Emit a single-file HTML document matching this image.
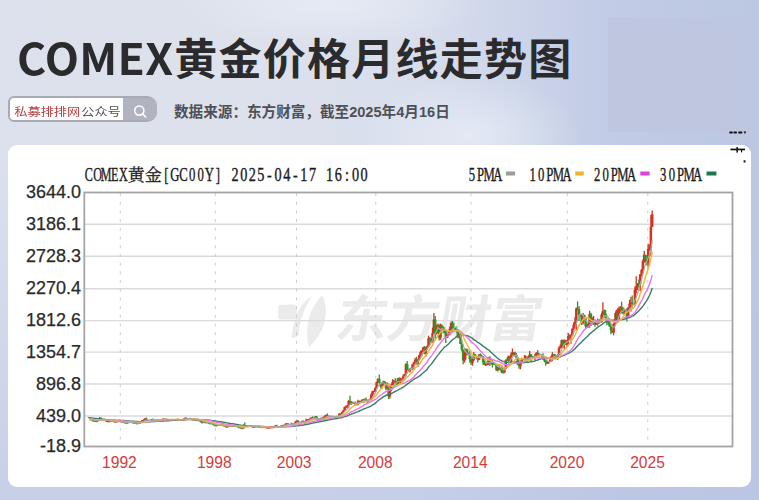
<!DOCTYPE html>
<html><head><meta charset="utf-8">
<style>
html,body{margin:0;padding:0;width:759px;height:500px;overflow:hidden}
body{position:relative;background:radial-gradient(ellipse 150px 40px at 330px 5px,rgba(234,239,247,.7),rgba(234,239,247,0)),radial-gradient(ellipse 110px 60px at 470px 135px,rgba(232,237,246,.8),rgba(232,237,246,0)),linear-gradient(180deg,rgba(190,200,230,0) 0%,rgba(190,200,230,0) 30%,rgba(186,197,229,.62) 100%),linear-gradient(90deg,#dde1ed 0%,#dde1ec 33%,#d8deec 55%,#ced6ea 66%,#c4cde6 78%,#c0cae4 85%,#bcc7e1 100%);font-family:"Liberation Sans","Noto Sans CJK SC",sans-serif}
.title{position:absolute;left:0;top:34.5px;width:600px;height:43px;font:700 43px/43px "Noto Sans CJK SC","Liberation Sans",sans-serif;color:#2b2b2d;white-space:nowrap}
.title span{position:absolute;top:0;transform-origin:0 0}
.search{position:absolute;left:7.5px;top:95.5px;width:145.5px;height:22px;border:2px solid #a8abb6;border-radius:6px 10px 10px 6px;background:#fff}
.search .txt{position:absolute;left:4.8px;top:4.7px;transform:scaleY(0.85);transform-origin:0 15.6px;font:400 13.2px/20px "Liberation Sans","Noto Sans CJK SC",sans-serif;white-space:nowrap;color:#555}
.search .txt b{font-weight:400;color:#b83e40}
.search .txt i{font-style:normal;margin-left:1px;color:#505050}
.search .btn{position:absolute;left:113.5px;top:0;width:34px;height:22px;background:#b1b4bf;border-radius:0 8px 8px 0}
.src{position:absolute;left:174px;top:103.3px;font:700 14.6px/18px "Liberation Sans","Noto Sans CJK SC",sans-serif;color:#4e5057;white-space:nowrap}
.rect{position:absolute;left:608px;top:17.5px;width:141px;height:114px;background:#bec6e0}
.card{position:absolute;left:8px;top:144.5px;width:742.5px;height:342px;background:#fff;border-radius:9px}
svg{position:absolute;left:0;top:0}
</style></head><body>
<div class="rect"></div>
<div class="title"><span style="left:17.4px;transform:scaleX(1.035);letter-spacing:0.3px">COMEX</span><span style="left:174.2px;letter-spacing:1.26px">黄金价格月线走势图</span></div>
<div class="search"><div class="txt"><b>私募排排网</b><i>公众号</i></div><div class="btn"><svg width="34" height="22" viewBox="0 0 34 22"><circle cx="16.3" cy="12.6" r="4.6" fill="none" stroke="#fff" stroke-width="1.6"/><line x1="19.6" y1="15.9" x2="22.7" y2="19" stroke="#fff" stroke-width="1.6" stroke-linecap="round"/></svg></div></div>
<div class="src">数据来源：东方财富，截至2025年4月16日</div>
<div class="card"></div>
<svg width="759" height="500" viewBox="0 0 759 500">
<g fill="#ebebeb" font-family="'Liberation Sans','Noto Sans CJK SC',sans-serif" font-weight="700">
<text x="333.5" y="337.5" font-size="50" textLength="206" lengthAdjust="spacingAndGlyphs" transform="translate(0,337.5) skewX(-10) translate(0,-337.5)">东方财富</text>
<path d="M278.5,305 L293,304.5 Q297,305 297,308 L297,319.5 L279.5,319.5 Q278,319 278,317 Z"/>
<path d="M312,296 C302,302 294,314 291.5,338 C294,338 297,337 299,335 C299,322 304,308 312,296 Z"/>
<path d="M322,295.5 C328,305 327,322 319,335 C316,340 312,344 309,347.5 C306,336 307,322 311,312 C314,305 318,299 322,295.5 Z"/>
</g>
<line x1="84.3" y1="416.0" x2="732.5" y2="416.0" stroke="#dadada" stroke-width="1.4"/>
<line x1="84.3" y1="384.0" x2="732.5" y2="384.0" stroke="#dadada" stroke-width="1.4"/>
<line x1="84.3" y1="352.1" x2="732.5" y2="352.1" stroke="#dadada" stroke-width="1.4"/>
<line x1="84.3" y1="320.6" x2="732.5" y2="320.6" stroke="#dadada" stroke-width="1.4"/>
<line x1="84.3" y1="288.8" x2="732.5" y2="288.8" stroke="#dadada" stroke-width="1.4"/>
<line x1="84.3" y1="256.3" x2="732.5" y2="256.3" stroke="#dadada" stroke-width="1.4"/>
<line x1="84.3" y1="224.3" x2="732.5" y2="224.3" stroke="#dadada" stroke-width="1.4"/>
<line x1="120.3" y1="193" x2="120.3" y2="446" stroke="#cdcdcd" stroke-width="1" stroke-dasharray="3,5.7"/>
<line x1="215.3" y1="193" x2="215.3" y2="446" stroke="#cdcdcd" stroke-width="1" stroke-dasharray="3,5.7"/>
<line x1="296.5" y1="193" x2="296.5" y2="446" stroke="#cdcdcd" stroke-width="1" stroke-dasharray="3,5.7"/>
<line x1="375.8" y1="193" x2="375.8" y2="446" stroke="#cdcdcd" stroke-width="1" stroke-dasharray="3,5.7"/>
<line x1="471.0" y1="193" x2="471.0" y2="446" stroke="#cdcdcd" stroke-width="1" stroke-dasharray="3,5.7"/>
<line x1="567.3" y1="193" x2="567.3" y2="446" stroke="#cdcdcd" stroke-width="1" stroke-dasharray="3,5.7"/>
<line x1="647.8" y1="193" x2="647.8" y2="446" stroke="#cdcdcd" stroke-width="1" stroke-dasharray="3,5.7"/>
<rect x="84.3" y="192.5" width="648.2" height="254" fill="none" stroke="#a4a4a4" stroke-width="1.8"/>
<defs><filter id="bl" x="-5%" y="-5%" width="110%" height="110%"><feGaussianBlur stdDeviation="0.75"/></filter></defs>
<g filter="url(#bl)">
<line x1="89.0" y1="417.1" x2="89.0" y2="417.9" stroke="#2f9428" stroke-width="1.3"/>
<rect x="87.80" y="417.3" width="2.5" height="0.8" fill="#2f9428"/>
<line x1="90.4" y1="417.5" x2="90.4" y2="418.3" stroke="#2f9428" stroke-width="1.3"/>
<rect x="89.13" y="417.6" width="2.5" height="0.8" fill="#2f9428"/>
<line x1="91.7" y1="417.6" x2="91.7" y2="420.8" stroke="#2f9428" stroke-width="1.3"/>
<rect x="90.46" y="418.1" width="2.5" height="2.6" fill="#2f9428"/>
<line x1="93.0" y1="420.1" x2="93.0" y2="421.0" stroke="#2f9428" stroke-width="1.3"/>
<rect x="91.79" y="420.7" width="2.5" height="0.8" fill="#2f9428"/>
<line x1="94.4" y1="420.2" x2="94.4" y2="421.2" stroke="#2f9428" stroke-width="1.3"/>
<rect x="93.12" y="420.8" width="2.5" height="0.8" fill="#2f9428"/>
<line x1="95.7" y1="420.9" x2="95.7" y2="421.9" stroke="#2f9428" stroke-width="1.3"/>
<rect x="94.45" y="421.1" width="2.5" height="0.8" fill="#2f9428"/>
<line x1="97.0" y1="419.6" x2="97.0" y2="422.2" stroke="#d8301f" stroke-width="1.3"/>
<rect x="95.79" y="420.5" width="2.5" height="1.3" fill="#d8301f"/>
<line x1="98.4" y1="419.2" x2="98.4" y2="420.7" stroke="#d8301f" stroke-width="1.3"/>
<rect x="97.12" y="419.5" width="2.5" height="1.0" fill="#d8301f"/>
<line x1="99.7" y1="417.1" x2="99.7" y2="420.5" stroke="#d8301f" stroke-width="1.3"/>
<rect x="98.45" y="418.1" width="2.5" height="1.4" fill="#d8301f"/>
<line x1="101.0" y1="417.5" x2="101.0" y2="420.2" stroke="#2f9428" stroke-width="1.3"/>
<rect x="99.78" y="418.1" width="2.5" height="1.9" fill="#2f9428"/>
<line x1="102.4" y1="419.5" x2="102.4" y2="420.0" stroke="#d8301f" stroke-width="1.3"/>
<rect x="101.11" y="419.7" width="2.5" height="0.8" fill="#d8301f"/>
<line x1="103.7" y1="418.8" x2="103.7" y2="420.0" stroke="#d8301f" stroke-width="1.3"/>
<rect x="102.44" y="419.1" width="2.5" height="0.8" fill="#d8301f"/>
<line x1="105.0" y1="418.9" x2="105.0" y2="421.0" stroke="#2f9428" stroke-width="1.3"/>
<rect x="103.77" y="419.1" width="2.5" height="1.7" fill="#2f9428"/>
<line x1="106.4" y1="420.4" x2="106.4" y2="422.0" stroke="#2f9428" stroke-width="1.3"/>
<rect x="105.11" y="420.8" width="2.5" height="0.8" fill="#2f9428"/>
<line x1="107.7" y1="420.8" x2="107.7" y2="422.2" stroke="#2f9428" stroke-width="1.3"/>
<rect x="106.44" y="421.1" width="2.5" height="0.8" fill="#2f9428"/>
<line x1="109.0" y1="421.1" x2="109.0" y2="422.0" stroke="#d8301f" stroke-width="1.3"/>
<rect x="107.77" y="421.5" width="2.5" height="0.8" fill="#d8301f"/>
<line x1="110.3" y1="421.0" x2="110.3" y2="421.5" stroke="#d8301f" stroke-width="1.3"/>
<rect x="109.10" y="421.2" width="2.5" height="0.8" fill="#d8301f"/>
<line x1="111.7" y1="420.5" x2="111.7" y2="421.3" stroke="#d8301f" stroke-width="1.3"/>
<rect x="110.43" y="420.8" width="2.5" height="0.8" fill="#d8301f"/>
<line x1="113.0" y1="420.6" x2="113.0" y2="421.6" stroke="#2f9428" stroke-width="1.3"/>
<rect x="111.76" y="420.8" width="2.5" height="0.8" fill="#2f9428"/>
<line x1="114.3" y1="420.8" x2="114.3" y2="422.7" stroke="#2f9428" stroke-width="1.3"/>
<rect x="113.09" y="421.1" width="2.5" height="1.0" fill="#2f9428"/>
<line x1="115.7" y1="421.2" x2="115.7" y2="422.2" stroke="#d8301f" stroke-width="1.3"/>
<rect x="114.42" y="421.6" width="2.5" height="0.8" fill="#d8301f"/>
<line x1="117.0" y1="421.2" x2="117.0" y2="422.4" stroke="#d8301f" stroke-width="1.3"/>
<rect x="115.76" y="421.4" width="2.5" height="0.8" fill="#d8301f"/>
<line x1="118.3" y1="420.8" x2="118.3" y2="422.1" stroke="#d8301f" stroke-width="1.3"/>
<rect x="117.09" y="420.9" width="2.5" height="0.8" fill="#d8301f"/>
<line x1="119.7" y1="419.8" x2="119.7" y2="421.9" stroke="#2f9428" stroke-width="1.3"/>
<rect x="118.42" y="420.9" width="2.5" height="0.9" fill="#2f9428"/>
<line x1="121.0" y1="421.5" x2="121.0" y2="422.1" stroke="#d8301f" stroke-width="1.3"/>
<rect x="119.75" y="421.6" width="2.5" height="0.8" fill="#d8301f"/>
<line x1="122.3" y1="421.3" x2="122.3" y2="421.8" stroke="#2f9428" stroke-width="1.3"/>
<rect x="121.08" y="421.6" width="2.5" height="0.8" fill="#2f9428"/>
<line x1="123.7" y1="421.0" x2="123.7" y2="422.9" stroke="#2f9428" stroke-width="1.3"/>
<rect x="122.41" y="421.7" width="2.5" height="0.8" fill="#2f9428"/>
<line x1="125.0" y1="422.2" x2="125.0" y2="423.3" stroke="#2f9428" stroke-width="1.3"/>
<rect x="123.74" y="422.5" width="2.5" height="0.8" fill="#2f9428"/>
<line x1="126.3" y1="422.1" x2="126.3" y2="423.0" stroke="#d8301f" stroke-width="1.3"/>
<rect x="125.08" y="422.8" width="2.5" height="0.8" fill="#d8301f"/>
<line x1="127.7" y1="422.3" x2="127.7" y2="423.4" stroke="#d8301f" stroke-width="1.3"/>
<rect x="126.41" y="422.4" width="2.5" height="0.8" fill="#d8301f"/>
<line x1="129.0" y1="421.1" x2="129.0" y2="422.7" stroke="#d8301f" stroke-width="1.3"/>
<rect x="127.74" y="421.5" width="2.5" height="0.9" fill="#d8301f"/>
<line x1="130.3" y1="421.2" x2="130.3" y2="423.2" stroke="#2f9428" stroke-width="1.3"/>
<rect x="129.07" y="421.5" width="2.5" height="1.1" fill="#2f9428"/>
<line x1="131.7" y1="421.5" x2="131.7" y2="422.8" stroke="#d8301f" stroke-width="1.3"/>
<rect x="130.40" y="422.0" width="2.5" height="0.8" fill="#d8301f"/>
<line x1="133.0" y1="421.3" x2="133.0" y2="423.7" stroke="#2f9428" stroke-width="1.3"/>
<rect x="131.73" y="422.0" width="2.5" height="0.8" fill="#2f9428"/>
<line x1="134.3" y1="421.9" x2="134.3" y2="423.1" stroke="#2f9428" stroke-width="1.3"/>
<rect x="133.06" y="422.7" width="2.5" height="0.8" fill="#2f9428"/>
<line x1="135.6" y1="422.3" x2="135.6" y2="423.3" stroke="#2f9428" stroke-width="1.3"/>
<rect x="134.39" y="423.0" width="2.5" height="0.8" fill="#2f9428"/>
<line x1="137.0" y1="422.1" x2="137.0" y2="424.5" stroke="#2f9428" stroke-width="1.3"/>
<rect x="135.73" y="423.1" width="2.5" height="0.8" fill="#2f9428"/>
<line x1="138.3" y1="423.1" x2="138.3" y2="423.7" stroke="#2f9428" stroke-width="1.3"/>
<rect x="137.06" y="423.3" width="2.5" height="0.8" fill="#2f9428"/>
<line x1="139.6" y1="422.2" x2="139.6" y2="423.8" stroke="#d8301f" stroke-width="1.3"/>
<rect x="138.39" y="422.8" width="2.5" height="0.8" fill="#d8301f"/>
<line x1="141.0" y1="421.0" x2="141.0" y2="422.9" stroke="#d8301f" stroke-width="1.3"/>
<rect x="139.72" y="421.6" width="2.5" height="1.2" fill="#d8301f"/>
<line x1="142.3" y1="419.9" x2="142.3" y2="421.8" stroke="#d8301f" stroke-width="1.3"/>
<rect x="141.05" y="420.1" width="2.5" height="1.5" fill="#d8301f"/>
<line x1="143.6" y1="419.2" x2="143.6" y2="420.4" stroke="#d8301f" stroke-width="1.3"/>
<rect x="142.38" y="420.1" width="2.5" height="0.8" fill="#d8301f"/>
<line x1="145.0" y1="418.2" x2="145.0" y2="420.4" stroke="#d8301f" stroke-width="1.3"/>
<rect x="143.71" y="418.5" width="2.5" height="1.5" fill="#d8301f"/>
<line x1="146.3" y1="417.6" x2="146.3" y2="421.2" stroke="#2f9428" stroke-width="1.3"/>
<rect x="145.05" y="418.5" width="2.5" height="1.9" fill="#2f9428"/>
<line x1="147.6" y1="419.9" x2="147.6" y2="421.9" stroke="#2f9428" stroke-width="1.3"/>
<rect x="146.38" y="420.5" width="2.5" height="1.1" fill="#2f9428"/>
<line x1="149.0" y1="419.6" x2="149.0" y2="421.9" stroke="#d8301f" stroke-width="1.3"/>
<rect x="147.71" y="420.7" width="2.5" height="0.9" fill="#d8301f"/>
<line x1="150.3" y1="420.1" x2="150.3" y2="421.6" stroke="#d8301f" stroke-width="1.3"/>
<rect x="149.04" y="420.6" width="2.5" height="0.8" fill="#d8301f"/>
<line x1="151.6" y1="419.1" x2="151.6" y2="421.1" stroke="#d8301f" stroke-width="1.3"/>
<rect x="150.37" y="419.2" width="2.5" height="1.4" fill="#d8301f"/>
<line x1="153.0" y1="418.4" x2="153.0" y2="421.0" stroke="#2f9428" stroke-width="1.3"/>
<rect x="151.70" y="419.2" width="2.5" height="0.9" fill="#2f9428"/>
<line x1="154.3" y1="419.6" x2="154.3" y2="420.1" stroke="#d8301f" stroke-width="1.3"/>
<rect x="153.03" y="419.9" width="2.5" height="0.8" fill="#d8301f"/>
<line x1="155.6" y1="419.0" x2="155.6" y2="420.2" stroke="#d8301f" stroke-width="1.3"/>
<rect x="154.36" y="419.2" width="2.5" height="0.8" fill="#d8301f"/>
<line x1="156.9" y1="419.1" x2="156.9" y2="420.8" stroke="#2f9428" stroke-width="1.3"/>
<rect x="155.70" y="419.2" width="2.5" height="1.0" fill="#2f9428"/>
<line x1="158.3" y1="419.1" x2="158.3" y2="420.4" stroke="#d8301f" stroke-width="1.3"/>
<rect x="157.03" y="419.5" width="2.5" height="0.8" fill="#d8301f"/>
<line x1="159.6" y1="418.9" x2="159.6" y2="419.5" stroke="#2f9428" stroke-width="1.3"/>
<rect x="158.36" y="419.5" width="2.5" height="0.8" fill="#2f9428"/>
<line x1="160.9" y1="419.0" x2="160.9" y2="420.2" stroke="#2f9428" stroke-width="1.3"/>
<rect x="159.69" y="419.5" width="2.5" height="0.8" fill="#2f9428"/>
<line x1="162.3" y1="418.7" x2="162.3" y2="419.9" stroke="#d8301f" stroke-width="1.3"/>
<rect x="161.02" y="419.5" width="2.5" height="0.8" fill="#d8301f"/>
<line x1="163.6" y1="418.1" x2="163.6" y2="419.6" stroke="#d8301f" stroke-width="1.3"/>
<rect x="162.35" y="418.9" width="2.5" height="0.8" fill="#d8301f"/>
<line x1="164.9" y1="418.8" x2="164.9" y2="419.5" stroke="#2f9428" stroke-width="1.3"/>
<rect x="163.68" y="418.9" width="2.5" height="0.8" fill="#2f9428"/>
<line x1="166.3" y1="418.5" x2="166.3" y2="420.3" stroke="#2f9428" stroke-width="1.3"/>
<rect x="165.02" y="419.3" width="2.5" height="0.8" fill="#2f9428"/>
<line x1="167.6" y1="419.0" x2="167.6" y2="420.4" stroke="#d8301f" stroke-width="1.3"/>
<rect x="166.35" y="419.7" width="2.5" height="0.8" fill="#d8301f"/>
<line x1="168.9" y1="419.3" x2="168.9" y2="420.6" stroke="#2f9428" stroke-width="1.3"/>
<rect x="167.68" y="419.7" width="2.5" height="0.8" fill="#2f9428"/>
<line x1="170.3" y1="419.6" x2="170.3" y2="420.7" stroke="#d8301f" stroke-width="1.3"/>
<rect x="169.01" y="420.2" width="2.5" height="0.8" fill="#d8301f"/>
<line x1="171.6" y1="418.9" x2="171.6" y2="420.3" stroke="#d8301f" stroke-width="1.3"/>
<rect x="170.34" y="419.1" width="2.5" height="1.1" fill="#d8301f"/>
<line x1="172.9" y1="419.0" x2="172.9" y2="419.7" stroke="#2f9428" stroke-width="1.3"/>
<rect x="171.67" y="419.1" width="2.5" height="0.8" fill="#2f9428"/>
<line x1="174.3" y1="419.2" x2="174.3" y2="419.8" stroke="#2f9428" stroke-width="1.3"/>
<rect x="173.00" y="419.3" width="2.5" height="0.8" fill="#2f9428"/>
<line x1="175.6" y1="419.1" x2="175.6" y2="419.6" stroke="#d8301f" stroke-width="1.3"/>
<rect x="174.33" y="419.5" width="2.5" height="0.8" fill="#d8301f"/>
<line x1="176.9" y1="419.0" x2="176.9" y2="420.0" stroke="#2f9428" stroke-width="1.3"/>
<rect x="175.67" y="419.5" width="2.5" height="0.8" fill="#2f9428"/>
<line x1="178.2" y1="418.6" x2="178.2" y2="419.9" stroke="#d8301f" stroke-width="1.3"/>
<rect x="177.00" y="419.7" width="2.5" height="0.8" fill="#d8301f"/>
<line x1="179.6" y1="419.4" x2="179.6" y2="419.9" stroke="#d8301f" stroke-width="1.3"/>
<rect x="178.33" y="419.7" width="2.5" height="0.8" fill="#d8301f"/>
<line x1="180.9" y1="419.7" x2="180.9" y2="420.2" stroke="#2f9428" stroke-width="1.3"/>
<rect x="179.66" y="419.7" width="2.5" height="0.8" fill="#2f9428"/>
<line x1="182.2" y1="419.3" x2="182.2" y2="419.9" stroke="#d8301f" stroke-width="1.3"/>
<rect x="180.99" y="419.5" width="2.5" height="0.8" fill="#d8301f"/>
<line x1="183.6" y1="418.4" x2="183.6" y2="420.9" stroke="#d8301f" stroke-width="1.3"/>
<rect x="182.32" y="419.5" width="2.5" height="0.8" fill="#d8301f"/>
<line x1="184.9" y1="417.6" x2="184.9" y2="419.6" stroke="#d8301f" stroke-width="1.3"/>
<rect x="183.65" y="418.3" width="2.5" height="1.2" fill="#d8301f"/>
<line x1="186.2" y1="417.3" x2="186.2" y2="418.7" stroke="#2f9428" stroke-width="1.3"/>
<rect x="184.99" y="418.3" width="2.5" height="0.8" fill="#2f9428"/>
<line x1="187.6" y1="418.3" x2="187.6" y2="419.2" stroke="#2f9428" stroke-width="1.3"/>
<rect x="186.32" y="418.6" width="2.5" height="0.8" fill="#2f9428"/>
<line x1="188.9" y1="418.7" x2="188.9" y2="419.4" stroke="#2f9428" stroke-width="1.3"/>
<rect x="187.65" y="418.9" width="2.5" height="0.8" fill="#2f9428"/>
<line x1="190.2" y1="417.7" x2="190.2" y2="419.4" stroke="#2f9428" stroke-width="1.3"/>
<rect x="188.98" y="419.1" width="2.5" height="0.8" fill="#2f9428"/>
<line x1="191.6" y1="418.9" x2="191.6" y2="419.9" stroke="#2f9428" stroke-width="1.3"/>
<rect x="190.31" y="419.2" width="2.5" height="0.8" fill="#2f9428"/>
<line x1="192.9" y1="419.5" x2="192.9" y2="419.8" stroke="#d8301f" stroke-width="1.3"/>
<rect x="191.64" y="419.6" width="2.5" height="0.8" fill="#d8301f"/>
<line x1="194.2" y1="417.9" x2="194.2" y2="419.9" stroke="#d8301f" stroke-width="1.3"/>
<rect x="192.97" y="419.5" width="2.5" height="0.8" fill="#d8301f"/>
<line x1="195.6" y1="418.9" x2="195.6" y2="420.6" stroke="#2f9428" stroke-width="1.3"/>
<rect x="194.30" y="419.5" width="2.5" height="0.8" fill="#2f9428"/>
<line x1="196.9" y1="420.0" x2="196.9" y2="420.5" stroke="#d8301f" stroke-width="1.3"/>
<rect x="195.64" y="420.0" width="2.5" height="0.8" fill="#d8301f"/>
<line x1="198.2" y1="419.5" x2="198.2" y2="421.3" stroke="#2f9428" stroke-width="1.3"/>
<rect x="196.97" y="420.0" width="2.5" height="0.8" fill="#2f9428"/>
<line x1="199.5" y1="419.6" x2="199.5" y2="420.9" stroke="#2f9428" stroke-width="1.3"/>
<rect x="198.30" y="420.5" width="2.5" height="0.8" fill="#2f9428"/>
<line x1="200.9" y1="420.5" x2="200.9" y2="422.6" stroke="#2f9428" stroke-width="1.3"/>
<rect x="199.63" y="420.7" width="2.5" height="1.6" fill="#2f9428"/>
<line x1="202.2" y1="420.8" x2="202.2" y2="423.6" stroke="#d8301f" stroke-width="1.3"/>
<rect x="200.96" y="421.4" width="2.5" height="0.9" fill="#d8301f"/>
<line x1="203.5" y1="420.8" x2="203.5" y2="422.8" stroke="#2f9428" stroke-width="1.3"/>
<rect x="202.29" y="421.4" width="2.5" height="0.8" fill="#2f9428"/>
<line x1="204.9" y1="421.7" x2="204.9" y2="423.3" stroke="#2f9428" stroke-width="1.3"/>
<rect x="203.62" y="422.1" width="2.5" height="0.8" fill="#2f9428"/>
<line x1="206.2" y1="422.2" x2="206.2" y2="423.2" stroke="#d8301f" stroke-width="1.3"/>
<rect x="204.96" y="422.3" width="2.5" height="0.8" fill="#d8301f"/>
<line x1="207.5" y1="422.3" x2="207.5" y2="423.1" stroke="#2f9428" stroke-width="1.3"/>
<rect x="206.29" y="422.3" width="2.5" height="0.8" fill="#2f9428"/>
<line x1="208.9" y1="422.6" x2="208.9" y2="423.6" stroke="#2f9428" stroke-width="1.3"/>
<rect x="207.62" y="423.0" width="2.5" height="0.8" fill="#2f9428"/>
<line x1="210.2" y1="423.5" x2="210.2" y2="424.3" stroke="#2f9428" stroke-width="1.3"/>
<rect x="208.95" y="423.5" width="2.5" height="0.8" fill="#2f9428"/>
<line x1="211.5" y1="422.6" x2="211.5" y2="423.7" stroke="#d8301f" stroke-width="1.3"/>
<rect x="210.28" y="423.1" width="2.5" height="0.8" fill="#d8301f"/>
<line x1="212.9" y1="421.8" x2="212.9" y2="425.0" stroke="#2f9428" stroke-width="1.3"/>
<rect x="211.61" y="423.1" width="2.5" height="1.4" fill="#2f9428"/>
<line x1="214.2" y1="424.1" x2="214.2" y2="425.6" stroke="#2f9428" stroke-width="1.3"/>
<rect x="212.94" y="424.5" width="2.5" height="1.0" fill="#2f9428"/>
<line x1="215.5" y1="425.5" x2="215.5" y2="426.2" stroke="#2f9428" stroke-width="1.3"/>
<rect x="214.27" y="425.5" width="2.5" height="0.8" fill="#2f9428"/>
<line x1="216.9" y1="424.9" x2="216.9" y2="426.2" stroke="#d8301f" stroke-width="1.3"/>
<rect x="215.61" y="425.0" width="2.5" height="0.9" fill="#d8301f"/>
<line x1="218.2" y1="424.3" x2="218.2" y2="426.1" stroke="#2f9428" stroke-width="1.3"/>
<rect x="216.94" y="425.0" width="2.5" height="0.8" fill="#2f9428"/>
<line x1="219.5" y1="424.9" x2="219.5" y2="425.9" stroke="#d8301f" stroke-width="1.3"/>
<rect x="218.27" y="425.2" width="2.5" height="0.8" fill="#d8301f"/>
<line x1="220.8" y1="424.1" x2="220.8" y2="425.8" stroke="#d8301f" stroke-width="1.3"/>
<rect x="219.60" y="424.6" width="2.5" height="0.8" fill="#d8301f"/>
<line x1="222.2" y1="424.0" x2="222.2" y2="426.0" stroke="#2f9428" stroke-width="1.3"/>
<rect x="220.93" y="424.6" width="2.5" height="1.1" fill="#2f9428"/>
<line x1="223.5" y1="424.9" x2="223.5" y2="426.1" stroke="#d8301f" stroke-width="1.3"/>
<rect x="222.26" y="425.5" width="2.5" height="0.8" fill="#d8301f"/>
<line x1="224.8" y1="425.5" x2="224.8" y2="426.5" stroke="#2f9428" stroke-width="1.3"/>
<rect x="223.59" y="425.5" width="2.5" height="0.8" fill="#2f9428"/>
<line x1="226.2" y1="425.7" x2="226.2" y2="427.7" stroke="#2f9428" stroke-width="1.3"/>
<rect x="224.93" y="426.1" width="2.5" height="1.0" fill="#2f9428"/>
<line x1="227.5" y1="425.3" x2="227.5" y2="427.7" stroke="#d8301f" stroke-width="1.3"/>
<rect x="226.26" y="425.7" width="2.5" height="1.4" fill="#d8301f"/>
<line x1="228.8" y1="425.2" x2="228.8" y2="425.9" stroke="#2f9428" stroke-width="1.3"/>
<rect x="227.59" y="425.7" width="2.5" height="0.8" fill="#2f9428"/>
<line x1="230.2" y1="424.8" x2="230.2" y2="426.4" stroke="#d8301f" stroke-width="1.3"/>
<rect x="228.92" y="425.7" width="2.5" height="0.8" fill="#d8301f"/>
<line x1="231.5" y1="425.6" x2="231.5" y2="426.3" stroke="#2f9428" stroke-width="1.3"/>
<rect x="230.25" y="425.7" width="2.5" height="0.8" fill="#2f9428"/>
<line x1="232.8" y1="425.9" x2="232.8" y2="426.2" stroke="#d8301f" stroke-width="1.3"/>
<rect x="231.58" y="426.1" width="2.5" height="0.8" fill="#d8301f"/>
<line x1="234.2" y1="425.4" x2="234.2" y2="426.6" stroke="#2f9428" stroke-width="1.3"/>
<rect x="232.91" y="426.1" width="2.5" height="0.8" fill="#2f9428"/>
<line x1="235.5" y1="425.6" x2="235.5" y2="427.2" stroke="#2f9428" stroke-width="1.3"/>
<rect x="234.24" y="426.1" width="2.5" height="0.8" fill="#2f9428"/>
<line x1="236.8" y1="425.6" x2="236.8" y2="426.7" stroke="#d8301f" stroke-width="1.3"/>
<rect x="235.58" y="426.2" width="2.5" height="0.8" fill="#d8301f"/>
<line x1="238.2" y1="425.9" x2="238.2" y2="427.8" stroke="#2f9428" stroke-width="1.3"/>
<rect x="236.91" y="426.2" width="2.5" height="1.2" fill="#2f9428"/>
<line x1="239.5" y1="427.3" x2="239.5" y2="427.8" stroke="#2f9428" stroke-width="1.3"/>
<rect x="238.24" y="427.4" width="2.5" height="0.8" fill="#2f9428"/>
<line x1="240.8" y1="427.2" x2="240.8" y2="428.4" stroke="#2f9428" stroke-width="1.3"/>
<rect x="239.57" y="427.8" width="2.5" height="0.8" fill="#2f9428"/>
<line x1="242.2" y1="427.4" x2="242.2" y2="428.4" stroke="#d8301f" stroke-width="1.3"/>
<rect x="240.90" y="428.3" width="2.5" height="0.8" fill="#d8301f"/>
<line x1="243.5" y1="424.4" x2="243.5" y2="428.6" stroke="#d8301f" stroke-width="1.3"/>
<rect x="242.23" y="425.3" width="2.5" height="3.0" fill="#d8301f"/>
<line x1="244.8" y1="422.6" x2="244.8" y2="425.6" stroke="#2f9428" stroke-width="1.3"/>
<rect x="243.56" y="425.3" width="2.5" height="0.8" fill="#2f9428"/>
<line x1="246.1" y1="425.3" x2="246.1" y2="426.1" stroke="#2f9428" stroke-width="1.3"/>
<rect x="244.90" y="425.3" width="2.5" height="0.8" fill="#2f9428"/>
<line x1="247.5" y1="425.8" x2="247.5" y2="426.5" stroke="#2f9428" stroke-width="1.3"/>
<rect x="246.23" y="425.8" width="2.5" height="0.8" fill="#2f9428"/>
<line x1="248.8" y1="425.9" x2="248.8" y2="426.8" stroke="#2f9428" stroke-width="1.3"/>
<rect x="247.56" y="425.9" width="2.5" height="0.8" fill="#2f9428"/>
<line x1="250.1" y1="425.1" x2="250.1" y2="427.1" stroke="#d8301f" stroke-width="1.3"/>
<rect x="248.89" y="425.7" width="2.5" height="0.8" fill="#d8301f"/>
<line x1="251.5" y1="425.4" x2="251.5" y2="427.0" stroke="#2f9428" stroke-width="1.3"/>
<rect x="250.22" y="425.7" width="2.5" height="0.9" fill="#2f9428"/>
<line x1="252.8" y1="425.9" x2="252.8" y2="427.3" stroke="#2f9428" stroke-width="1.3"/>
<rect x="251.55" y="426.7" width="2.5" height="0.8" fill="#2f9428"/>
<line x1="254.1" y1="426.1" x2="254.1" y2="427.5" stroke="#2f9428" stroke-width="1.3"/>
<rect x="252.88" y="426.9" width="2.5" height="0.8" fill="#2f9428"/>
<line x1="255.5" y1="425.5" x2="255.5" y2="427.1" stroke="#d8301f" stroke-width="1.3"/>
<rect x="254.21" y="426.0" width="2.5" height="1.1" fill="#d8301f"/>
<line x1="256.8" y1="425.9" x2="256.8" y2="426.7" stroke="#2f9428" stroke-width="1.3"/>
<rect x="255.55" y="426.0" width="2.5" height="0.8" fill="#2f9428"/>
<line x1="258.1" y1="426.5" x2="258.1" y2="426.8" stroke="#d8301f" stroke-width="1.3"/>
<rect x="256.88" y="426.7" width="2.5" height="0.8" fill="#d8301f"/>
<line x1="259.5" y1="426.0" x2="259.5" y2="427.0" stroke="#2f9428" stroke-width="1.3"/>
<rect x="258.21" y="426.7" width="2.5" height="0.8" fill="#2f9428"/>
<line x1="260.8" y1="426.8" x2="260.8" y2="428.0" stroke="#2f9428" stroke-width="1.3"/>
<rect x="259.54" y="427.0" width="2.5" height="0.8" fill="#2f9428"/>
<line x1="262.1" y1="427.2" x2="262.1" y2="428.1" stroke="#d8301f" stroke-width="1.3"/>
<rect x="260.87" y="427.3" width="2.5" height="0.8" fill="#d8301f"/>
<line x1="263.5" y1="426.8" x2="263.5" y2="427.7" stroke="#d8301f" stroke-width="1.3"/>
<rect x="262.20" y="427.1" width="2.5" height="0.8" fill="#d8301f"/>
<line x1="264.8" y1="426.4" x2="264.8" y2="427.8" stroke="#2f9428" stroke-width="1.3"/>
<rect x="263.53" y="427.1" width="2.5" height="0.8" fill="#2f9428"/>
<line x1="266.1" y1="427.1" x2="266.1" y2="427.8" stroke="#d8301f" stroke-width="1.3"/>
<rect x="264.87" y="427.5" width="2.5" height="0.8" fill="#d8301f"/>
<line x1="267.4" y1="427.5" x2="267.4" y2="428.4" stroke="#2f9428" stroke-width="1.3"/>
<rect x="266.20" y="427.5" width="2.5" height="0.8" fill="#2f9428"/>
<line x1="268.8" y1="427.6" x2="268.8" y2="428.5" stroke="#d8301f" stroke-width="1.3"/>
<rect x="267.53" y="427.7" width="2.5" height="0.8" fill="#d8301f"/>
<line x1="270.1" y1="426.8" x2="270.1" y2="427.9" stroke="#d8301f" stroke-width="1.3"/>
<rect x="268.86" y="427.5" width="2.5" height="0.8" fill="#d8301f"/>
<line x1="271.4" y1="426.9" x2="271.4" y2="427.7" stroke="#d8301f" stroke-width="1.3"/>
<rect x="270.19" y="427.3" width="2.5" height="0.8" fill="#d8301f"/>
<line x1="272.8" y1="426.9" x2="272.8" y2="427.8" stroke="#2f9428" stroke-width="1.3"/>
<rect x="271.52" y="427.3" width="2.5" height="0.8" fill="#2f9428"/>
<line x1="274.1" y1="426.4" x2="274.1" y2="427.6" stroke="#d8301f" stroke-width="1.3"/>
<rect x="272.85" y="427.1" width="2.5" height="0.8" fill="#d8301f"/>
<line x1="275.4" y1="425.2" x2="275.4" y2="427.2" stroke="#d8301f" stroke-width="1.3"/>
<rect x="274.18" y="425.7" width="2.5" height="1.3" fill="#d8301f"/>
<line x1="276.8" y1="424.7" x2="276.8" y2="426.8" stroke="#2f9428" stroke-width="1.3"/>
<rect x="275.52" y="425.7" width="2.5" height="0.9" fill="#2f9428"/>
<line x1="278.1" y1="426.4" x2="278.1" y2="427.7" stroke="#2f9428" stroke-width="1.3"/>
<rect x="276.85" y="426.7" width="2.5" height="0.8" fill="#2f9428"/>
<line x1="279.4" y1="426.4" x2="279.4" y2="427.0" stroke="#d8301f" stroke-width="1.3"/>
<rect x="278.18" y="426.7" width="2.5" height="0.8" fill="#d8301f"/>
<line x1="280.8" y1="425.5" x2="280.8" y2="427.0" stroke="#d8301f" stroke-width="1.3"/>
<rect x="279.51" y="426.5" width="2.5" height="0.8" fill="#d8301f"/>
<line x1="282.1" y1="425.3" x2="282.1" y2="426.6" stroke="#d8301f" stroke-width="1.3"/>
<rect x="280.84" y="425.5" width="2.5" height="1.0" fill="#d8301f"/>
<line x1="283.4" y1="424.8" x2="283.4" y2="425.8" stroke="#d8301f" stroke-width="1.3"/>
<rect x="282.17" y="425.1" width="2.5" height="0.8" fill="#d8301f"/>
<line x1="284.8" y1="424.4" x2="284.8" y2="425.3" stroke="#d8301f" stroke-width="1.3"/>
<rect x="283.50" y="424.7" width="2.5" height="0.8" fill="#d8301f"/>
<line x1="286.1" y1="422.9" x2="286.1" y2="425.0" stroke="#d8301f" stroke-width="1.3"/>
<rect x="284.84" y="423.5" width="2.5" height="1.1" fill="#d8301f"/>
<line x1="287.4" y1="423.3" x2="287.4" y2="425.0" stroke="#2f9428" stroke-width="1.3"/>
<rect x="286.17" y="423.5" width="2.5" height="0.8" fill="#2f9428"/>
<line x1="288.7" y1="423.6" x2="288.7" y2="425.6" stroke="#2f9428" stroke-width="1.3"/>
<rect x="287.50" y="424.1" width="2.5" height="0.9" fill="#2f9428"/>
<line x1="290.1" y1="424.3" x2="290.1" y2="425.2" stroke="#d8301f" stroke-width="1.3"/>
<rect x="288.83" y="424.5" width="2.5" height="0.8" fill="#d8301f"/>
<line x1="291.4" y1="422.7" x2="291.4" y2="425.3" stroke="#d8301f" stroke-width="1.3"/>
<rect x="290.16" y="423.7" width="2.5" height="0.8" fill="#d8301f"/>
<line x1="292.7" y1="423.4" x2="292.7" y2="425.3" stroke="#2f9428" stroke-width="1.3"/>
<rect x="291.49" y="423.7" width="2.5" height="0.8" fill="#2f9428"/>
<line x1="294.1" y1="423.6" x2="294.1" y2="424.4" stroke="#d8301f" stroke-width="1.3"/>
<rect x="292.82" y="424.1" width="2.5" height="0.8" fill="#d8301f"/>
<line x1="295.4" y1="421.1" x2="295.4" y2="424.1" stroke="#d8301f" stroke-width="1.3"/>
<rect x="294.15" y="422.1" width="2.5" height="2.0" fill="#d8301f"/>
<line x1="296.7" y1="420.4" x2="296.7" y2="422.5" stroke="#d8301f" stroke-width="1.3"/>
<rect x="295.49" y="420.7" width="2.5" height="1.3" fill="#d8301f"/>
<line x1="298.1" y1="420.2" x2="298.1" y2="422.1" stroke="#2f9428" stroke-width="1.3"/>
<rect x="296.82" y="420.7" width="2.5" height="1.3" fill="#2f9428"/>
<line x1="299.4" y1="421.9" x2="299.4" y2="423.3" stroke="#2f9428" stroke-width="1.3"/>
<rect x="298.15" y="422.1" width="2.5" height="0.9" fill="#2f9428"/>
<line x1="300.7" y1="422.6" x2="300.7" y2="423.0" stroke="#d8301f" stroke-width="1.3"/>
<rect x="299.48" y="422.7" width="2.5" height="0.8" fill="#d8301f"/>
<line x1="302.1" y1="420.5" x2="302.1" y2="422.8" stroke="#d8301f" stroke-width="1.3"/>
<rect x="300.81" y="421.0" width="2.5" height="1.7" fill="#d8301f"/>
<line x1="303.4" y1="420.5" x2="303.4" y2="422.2" stroke="#2f9428" stroke-width="1.3"/>
<rect x="302.14" y="421.0" width="2.5" height="1.2" fill="#2f9428"/>
<line x1="304.7" y1="421.2" x2="304.7" y2="422.6" stroke="#d8301f" stroke-width="1.3"/>
<rect x="303.47" y="421.7" width="2.5" height="0.8" fill="#d8301f"/>
<line x1="306.1" y1="418.8" x2="306.1" y2="422.3" stroke="#d8301f" stroke-width="1.3"/>
<rect x="304.81" y="420.3" width="2.5" height="1.4" fill="#d8301f"/>
<line x1="307.4" y1="419.0" x2="307.4" y2="421.7" stroke="#d8301f" stroke-width="1.3"/>
<rect x="306.14" y="419.4" width="2.5" height="0.9" fill="#d8301f"/>
<line x1="308.7" y1="419.0" x2="308.7" y2="419.9" stroke="#2f9428" stroke-width="1.3"/>
<rect x="307.47" y="419.4" width="2.5" height="0.8" fill="#2f9428"/>
<line x1="310.0" y1="417.7" x2="310.0" y2="419.9" stroke="#d8301f" stroke-width="1.3"/>
<rect x="308.80" y="418.7" width="2.5" height="0.9" fill="#d8301f"/>
<line x1="311.4" y1="417.5" x2="311.4" y2="419.0" stroke="#d8301f" stroke-width="1.3"/>
<rect x="310.13" y="417.5" width="2.5" height="1.2" fill="#d8301f"/>
<line x1="312.7" y1="416.3" x2="312.7" y2="419.0" stroke="#2f9428" stroke-width="1.3"/>
<rect x="311.46" y="417.5" width="2.5" height="0.9" fill="#2f9428"/>
<line x1="314.0" y1="418.2" x2="314.0" y2="419.2" stroke="#2f9428" stroke-width="1.3"/>
<rect x="312.79" y="418.4" width="2.5" height="0.8" fill="#2f9428"/>
<line x1="315.4" y1="416.0" x2="315.4" y2="419.8" stroke="#d8301f" stroke-width="1.3"/>
<rect x="314.12" y="416.8" width="2.5" height="2.0" fill="#d8301f"/>
<line x1="316.7" y1="415.9" x2="316.7" y2="419.8" stroke="#2f9428" stroke-width="1.3"/>
<rect x="315.46" y="416.8" width="2.5" height="2.6" fill="#2f9428"/>
<line x1="318.0" y1="418.9" x2="318.0" y2="419.5" stroke="#d8301f" stroke-width="1.3"/>
<rect x="316.79" y="419.1" width="2.5" height="0.8" fill="#d8301f"/>
<line x1="319.4" y1="418.7" x2="319.4" y2="419.6" stroke="#d8301f" stroke-width="1.3"/>
<rect x="318.12" y="418.9" width="2.5" height="0.8" fill="#d8301f"/>
<line x1="320.7" y1="417.7" x2="320.7" y2="419.8" stroke="#2f9428" stroke-width="1.3"/>
<rect x="319.45" y="418.9" width="2.5" height="0.8" fill="#2f9428"/>
<line x1="322.0" y1="417.2" x2="322.0" y2="420.0" stroke="#d8301f" stroke-width="1.3"/>
<rect x="320.78" y="417.9" width="2.5" height="1.3" fill="#d8301f"/>
<line x1="323.4" y1="416.5" x2="323.4" y2="418.5" stroke="#d8301f" stroke-width="1.3"/>
<rect x="322.11" y="417.5" width="2.5" height="0.8" fill="#d8301f"/>
<line x1="324.7" y1="415.5" x2="324.7" y2="418.0" stroke="#d8301f" stroke-width="1.3"/>
<rect x="323.44" y="416.7" width="2.5" height="0.9" fill="#d8301f"/>
<line x1="326.0" y1="414.4" x2="326.0" y2="416.8" stroke="#d8301f" stroke-width="1.3"/>
<rect x="324.78" y="415.0" width="2.5" height="1.6" fill="#d8301f"/>
<line x1="327.4" y1="413.5" x2="327.4" y2="416.5" stroke="#2f9428" stroke-width="1.3"/>
<rect x="326.11" y="415.0" width="2.5" height="1.0" fill="#2f9428"/>
<line x1="328.7" y1="416.0" x2="328.7" y2="417.4" stroke="#2f9428" stroke-width="1.3"/>
<rect x="327.44" y="416.1" width="2.5" height="1.0" fill="#2f9428"/>
<line x1="330.0" y1="415.8" x2="330.0" y2="417.1" stroke="#d8301f" stroke-width="1.3"/>
<rect x="328.77" y="416.3" width="2.5" height="0.8" fill="#d8301f"/>
<line x1="331.4" y1="416.0" x2="331.4" y2="416.9" stroke="#2f9428" stroke-width="1.3"/>
<rect x="330.10" y="416.3" width="2.5" height="0.8" fill="#2f9428"/>
<line x1="332.7" y1="415.8" x2="332.7" y2="416.8" stroke="#d8301f" stroke-width="1.3"/>
<rect x="331.43" y="416.2" width="2.5" height="0.8" fill="#d8301f"/>
<line x1="334.0" y1="416.0" x2="334.0" y2="417.9" stroke="#2f9428" stroke-width="1.3"/>
<rect x="332.76" y="416.2" width="2.5" height="1.3" fill="#2f9428"/>
<line x1="335.3" y1="416.1" x2="335.3" y2="418.0" stroke="#d8301f" stroke-width="1.3"/>
<rect x="334.09" y="416.1" width="2.5" height="1.3" fill="#d8301f"/>
<line x1="336.7" y1="415.7" x2="336.7" y2="416.6" stroke="#2f9428" stroke-width="1.3"/>
<rect x="335.43" y="416.1" width="2.5" height="0.8" fill="#2f9428"/>
<line x1="338.0" y1="416.1" x2="338.0" y2="416.7" stroke="#d8301f" stroke-width="1.3"/>
<rect x="336.76" y="416.1" width="2.5" height="0.8" fill="#d8301f"/>
<line x1="339.3" y1="413.6" x2="339.3" y2="416.2" stroke="#d8301f" stroke-width="1.3"/>
<rect x="338.09" y="413.6" width="2.5" height="2.5" fill="#d8301f"/>
<line x1="340.7" y1="413.5" x2="340.7" y2="414.7" stroke="#2f9428" stroke-width="1.3"/>
<rect x="339.42" y="413.6" width="2.5" height="0.8" fill="#2f9428"/>
<line x1="342.0" y1="411.7" x2="342.0" y2="414.5" stroke="#d8301f" stroke-width="1.3"/>
<rect x="340.75" y="412.0" width="2.5" height="1.7" fill="#d8301f"/>
<line x1="343.3" y1="410.1" x2="343.3" y2="412.2" stroke="#d8301f" stroke-width="1.3"/>
<rect x="342.08" y="410.5" width="2.5" height="1.5" fill="#d8301f"/>
<line x1="344.7" y1="406.5" x2="344.7" y2="411.2" stroke="#d8301f" stroke-width="1.3"/>
<rect x="343.41" y="406.9" width="2.5" height="3.6" fill="#d8301f"/>
<line x1="346.0" y1="405.3" x2="346.0" y2="407.8" stroke="#2f9428" stroke-width="1.3"/>
<rect x="344.75" y="406.9" width="2.5" height="0.8" fill="#2f9428"/>
<line x1="347.3" y1="405.0" x2="347.3" y2="408.4" stroke="#d8301f" stroke-width="1.3"/>
<rect x="346.08" y="405.9" width="2.5" height="1.9" fill="#d8301f"/>
<line x1="348.7" y1="399.9" x2="348.7" y2="408.2" stroke="#d8301f" stroke-width="1.3"/>
<rect x="347.41" y="401.0" width="2.5" height="4.9" fill="#d8301f"/>
<line x1="350.0" y1="395.7" x2="350.0" y2="403.1" stroke="#2f9428" stroke-width="1.3"/>
<rect x="348.74" y="401.0" width="2.5" height="0.8" fill="#2f9428"/>
<line x1="351.3" y1="401.2" x2="351.3" y2="404.9" stroke="#2f9428" stroke-width="1.3"/>
<rect x="350.07" y="401.5" width="2.5" height="2.1" fill="#2f9428"/>
<line x1="352.7" y1="401.7" x2="352.7" y2="404.1" stroke="#d8301f" stroke-width="1.3"/>
<rect x="351.40" y="402.4" width="2.5" height="1.2" fill="#d8301f"/>
<line x1="354.0" y1="402.0" x2="354.0" y2="403.1" stroke="#2f9428" stroke-width="1.3"/>
<rect x="352.73" y="402.4" width="2.5" height="0.8" fill="#2f9428"/>
<line x1="355.3" y1="401.5" x2="355.3" y2="405.4" stroke="#2f9428" stroke-width="1.3"/>
<rect x="354.06" y="402.9" width="2.5" height="1.8" fill="#2f9428"/>
<line x1="356.6" y1="404.3" x2="356.6" y2="405.3" stroke="#d8301f" stroke-width="1.3"/>
<rect x="355.40" y="404.3" width="2.5" height="0.8" fill="#d8301f"/>
<line x1="358.0" y1="399.7" x2="358.0" y2="405.2" stroke="#d8301f" stroke-width="1.3"/>
<rect x="356.73" y="401.4" width="2.5" height="2.9" fill="#d8301f"/>
<line x1="359.3" y1="400.4" x2="359.3" y2="403.4" stroke="#2f9428" stroke-width="1.3"/>
<rect x="358.06" y="401.4" width="2.5" height="0.9" fill="#2f9428"/>
<line x1="360.6" y1="400.9" x2="360.6" y2="403.0" stroke="#d8301f" stroke-width="1.3"/>
<rect x="359.39" y="401.0" width="2.5" height="1.3" fill="#d8301f"/>
<line x1="362.0" y1="399.4" x2="362.0" y2="402.1" stroke="#d8301f" stroke-width="1.3"/>
<rect x="360.72" y="399.7" width="2.5" height="1.3" fill="#d8301f"/>
<line x1="363.3" y1="399.1" x2="363.3" y2="400.9" stroke="#2f9428" stroke-width="1.3"/>
<rect x="362.05" y="399.7" width="2.5" height="0.8" fill="#2f9428"/>
<line x1="364.6" y1="398.7" x2="364.6" y2="402.5" stroke="#d8301f" stroke-width="1.3"/>
<rect x="363.38" y="398.9" width="2.5" height="1.0" fill="#d8301f"/>
<line x1="366.0" y1="397.6" x2="366.0" y2="400.8" stroke="#2f9428" stroke-width="1.3"/>
<rect x="364.72" y="398.9" width="2.5" height="1.7" fill="#2f9428"/>
<line x1="367.3" y1="400.5" x2="367.3" y2="403.8" stroke="#2f9428" stroke-width="1.3"/>
<rect x="366.05" y="400.6" width="2.5" height="0.8" fill="#2f9428"/>
<line x1="368.6" y1="399.6" x2="368.6" y2="402.1" stroke="#d8301f" stroke-width="1.3"/>
<rect x="367.38" y="400.0" width="2.5" height="1.2" fill="#d8301f"/>
<line x1="370.0" y1="398.6" x2="370.0" y2="400.0" stroke="#d8301f" stroke-width="1.3"/>
<rect x="368.71" y="399.6" width="2.5" height="0.8" fill="#d8301f"/>
<line x1="371.3" y1="393.3" x2="371.3" y2="399.8" stroke="#d8301f" stroke-width="1.3"/>
<rect x="370.04" y="394.6" width="2.5" height="5.0" fill="#d8301f"/>
<line x1="372.6" y1="390.7" x2="372.6" y2="395.9" stroke="#d8301f" stroke-width="1.3"/>
<rect x="371.37" y="391.1" width="2.5" height="3.5" fill="#d8301f"/>
<line x1="374.0" y1="390.2" x2="374.0" y2="392.0" stroke="#2f9428" stroke-width="1.3"/>
<rect x="372.70" y="391.1" width="2.5" height="0.8" fill="#2f9428"/>
<line x1="375.3" y1="387.0" x2="375.3" y2="392.6" stroke="#d8301f" stroke-width="1.3"/>
<rect x="374.03" y="388.1" width="2.5" height="3.8" fill="#d8301f"/>
<line x1="376.6" y1="381.7" x2="376.6" y2="388.2" stroke="#d8301f" stroke-width="1.3"/>
<rect x="375.37" y="382.0" width="2.5" height="6.1" fill="#d8301f"/>
<line x1="377.9" y1="378.4" x2="377.9" y2="382.9" stroke="#d8301f" stroke-width="1.3"/>
<rect x="376.70" y="378.8" width="2.5" height="3.2" fill="#d8301f"/>
<line x1="379.3" y1="374.5" x2="379.3" y2="383.5" stroke="#2f9428" stroke-width="1.3"/>
<rect x="378.03" y="378.8" width="2.5" height="3.9" fill="#2f9428"/>
<line x1="380.6" y1="382.7" x2="380.6" y2="388.2" stroke="#2f9428" stroke-width="1.3"/>
<rect x="379.36" y="382.7" width="2.5" height="3.6" fill="#2f9428"/>
<line x1="381.9" y1="384.2" x2="381.9" y2="388.9" stroke="#d8301f" stroke-width="1.3"/>
<rect x="380.69" y="384.8" width="2.5" height="1.5" fill="#d8301f"/>
<line x1="383.3" y1="380.7" x2="383.3" y2="385.5" stroke="#d8301f" stroke-width="1.3"/>
<rect x="382.02" y="381.7" width="2.5" height="3.1" fill="#d8301f"/>
<line x1="384.6" y1="380.9" x2="384.6" y2="382.9" stroke="#2f9428" stroke-width="1.3"/>
<rect x="383.35" y="381.7" width="2.5" height="1.2" fill="#2f9428"/>
<line x1="385.9" y1="382.5" x2="385.9" y2="390.3" stroke="#2f9428" stroke-width="1.3"/>
<rect x="384.69" y="382.9" width="2.5" height="5.6" fill="#2f9428"/>
<line x1="387.3" y1="382.4" x2="387.3" y2="389.1" stroke="#d8301f" stroke-width="1.3"/>
<rect x="386.02" y="384.9" width="2.5" height="3.6" fill="#d8301f"/>
<line x1="388.6" y1="383.4" x2="388.6" y2="399.1" stroke="#2f9428" stroke-width="1.3"/>
<rect x="387.35" y="384.9" width="2.5" height="11.6" fill="#2f9428"/>
<line x1="389.9" y1="389.4" x2="389.9" y2="398.5" stroke="#d8301f" stroke-width="1.3"/>
<rect x="388.68" y="389.6" width="2.5" height="6.8" fill="#d8301f"/>
<line x1="391.3" y1="383.8" x2="391.3" y2="390.8" stroke="#d8301f" stroke-width="1.3"/>
<rect x="390.01" y="384.9" width="2.5" height="4.8" fill="#d8301f"/>
<line x1="392.6" y1="379.1" x2="392.6" y2="385.0" stroke="#d8301f" stroke-width="1.3"/>
<rect x="391.34" y="381.8" width="2.5" height="3.1" fill="#d8301f"/>
<line x1="393.9" y1="379.9" x2="393.9" y2="384.3" stroke="#d8301f" stroke-width="1.3"/>
<rect x="392.67" y="380.9" width="2.5" height="1.0" fill="#d8301f"/>
<line x1="395.3" y1="378.2" x2="395.3" y2="383.6" stroke="#2f9428" stroke-width="1.3"/>
<rect x="394.00" y="380.9" width="2.5" height="1.3" fill="#2f9428"/>
<line x1="396.6" y1="381.2" x2="396.6" y2="386.3" stroke="#2f9428" stroke-width="1.3"/>
<rect x="395.34" y="382.1" width="2.5" height="2.3" fill="#2f9428"/>
<line x1="397.9" y1="378.2" x2="397.9" y2="384.7" stroke="#d8301f" stroke-width="1.3"/>
<rect x="396.67" y="378.2" width="2.5" height="6.2" fill="#d8301f"/>
<line x1="399.2" y1="377.3" x2="399.2" y2="382.9" stroke="#2f9428" stroke-width="1.3"/>
<rect x="398.00" y="378.2" width="2.5" height="3.7" fill="#2f9428"/>
<line x1="400.6" y1="377.7" x2="400.6" y2="383.6" stroke="#d8301f" stroke-width="1.3"/>
<rect x="399.33" y="379.9" width="2.5" height="2.0" fill="#d8301f"/>
<line x1="401.9" y1="378.0" x2="401.9" y2="380.7" stroke="#d8301f" stroke-width="1.3"/>
<rect x="400.66" y="379.9" width="2.5" height="0.8" fill="#d8301f"/>
<line x1="403.2" y1="374.6" x2="403.2" y2="381.5" stroke="#d8301f" stroke-width="1.3"/>
<rect x="401.99" y="376.3" width="2.5" height="3.7" fill="#d8301f"/>
<line x1="404.6" y1="373.9" x2="404.6" y2="376.3" stroke="#d8301f" stroke-width="1.3"/>
<rect x="403.32" y="374.0" width="2.5" height="2.2" fill="#d8301f"/>
<line x1="405.9" y1="363.2" x2="405.9" y2="376.6" stroke="#d8301f" stroke-width="1.3"/>
<rect x="404.66" y="364.1" width="2.5" height="9.9" fill="#d8301f"/>
<line x1="407.2" y1="361.0" x2="407.2" y2="370.1" stroke="#2f9428" stroke-width="1.3"/>
<rect x="405.99" y="364.1" width="2.5" height="5.9" fill="#2f9428"/>
<line x1="408.6" y1="369.7" x2="408.6" y2="371.7" stroke="#2f9428" stroke-width="1.3"/>
<rect x="407.32" y="370.1" width="2.5" height="1.1" fill="#2f9428"/>
<line x1="409.9" y1="368.5" x2="409.9" y2="372.4" stroke="#d8301f" stroke-width="1.3"/>
<rect x="408.65" y="368.6" width="2.5" height="2.6" fill="#d8301f"/>
<line x1="411.2" y1="367.4" x2="411.2" y2="369.4" stroke="#2f9428" stroke-width="1.3"/>
<rect x="409.98" y="368.6" width="2.5" height="0.8" fill="#2f9428"/>
<line x1="412.6" y1="364.1" x2="412.6" y2="369.9" stroke="#d8301f" stroke-width="1.3"/>
<rect x="411.31" y="364.3" width="2.5" height="4.5" fill="#d8301f"/>
<line x1="413.9" y1="361.7" x2="413.9" y2="369.2" stroke="#d8301f" stroke-width="1.3"/>
<rect x="412.64" y="362.0" width="2.5" height="2.2" fill="#d8301f"/>
<line x1="415.2" y1="357.8" x2="415.2" y2="362.1" stroke="#d8301f" stroke-width="1.3"/>
<rect x="413.97" y="359.7" width="2.5" height="2.4" fill="#d8301f"/>
<line x1="416.6" y1="356.8" x2="416.6" y2="364.6" stroke="#2f9428" stroke-width="1.3"/>
<rect x="415.31" y="359.7" width="2.5" height="4.5" fill="#2f9428"/>
<line x1="417.9" y1="359.3" x2="417.9" y2="366.7" stroke="#d8301f" stroke-width="1.3"/>
<rect x="416.64" y="359.5" width="2.5" height="4.7" fill="#d8301f"/>
<line x1="419.2" y1="354.8" x2="419.2" y2="360.1" stroke="#d8301f" stroke-width="1.3"/>
<rect x="417.97" y="355.3" width="2.5" height="4.2" fill="#d8301f"/>
<line x1="420.6" y1="351.0" x2="420.6" y2="356.5" stroke="#d8301f" stroke-width="1.3"/>
<rect x="419.30" y="351.9" width="2.5" height="3.3" fill="#d8301f"/>
<line x1="421.9" y1="349.9" x2="421.9" y2="353.7" stroke="#d8301f" stroke-width="1.3"/>
<rect x="420.63" y="349.9" width="2.5" height="2.0" fill="#d8301f"/>
<line x1="423.2" y1="346.8" x2="423.2" y2="350.1" stroke="#d8301f" stroke-width="1.3"/>
<rect x="421.96" y="347.5" width="2.5" height="2.4" fill="#d8301f"/>
<line x1="424.5" y1="346.0" x2="424.5" y2="354.2" stroke="#2f9428" stroke-width="1.3"/>
<rect x="423.29" y="347.5" width="2.5" height="6.1" fill="#2f9428"/>
<line x1="425.9" y1="346.7" x2="425.9" y2="356.4" stroke="#d8301f" stroke-width="1.3"/>
<rect x="424.63" y="348.2" width="2.5" height="5.4" fill="#d8301f"/>
<line x1="427.2" y1="345.5" x2="427.2" y2="349.8" stroke="#d8301f" stroke-width="1.3"/>
<rect x="425.96" y="346.3" width="2.5" height="1.9" fill="#d8301f"/>
<line x1="428.5" y1="335.6" x2="428.5" y2="346.6" stroke="#d8301f" stroke-width="1.3"/>
<rect x="427.29" y="338.3" width="2.5" height="8.0" fill="#d8301f"/>
<line x1="429.9" y1="337.1" x2="429.9" y2="339.9" stroke="#2f9428" stroke-width="1.3"/>
<rect x="428.62" y="338.3" width="2.5" height="1.4" fill="#2f9428"/>
<line x1="431.2" y1="338.4" x2="431.2" y2="343.0" stroke="#2f9428" stroke-width="1.3"/>
<rect x="429.95" y="339.6" width="2.5" height="2.5" fill="#2f9428"/>
<line x1="432.5" y1="327.6" x2="432.5" y2="342.8" stroke="#d8301f" stroke-width="1.3"/>
<rect x="431.28" y="333.3" width="2.5" height="8.8" fill="#d8301f"/>
<line x1="433.9" y1="313.1" x2="433.9" y2="333.6" stroke="#d8301f" stroke-width="1.3"/>
<rect x="432.61" y="319.5" width="2.5" height="13.8" fill="#d8301f"/>
<line x1="435.2" y1="315.9" x2="435.2" y2="339.7" stroke="#2f9428" stroke-width="1.3"/>
<rect x="433.94" y="319.5" width="2.5" height="14.4" fill="#2f9428"/>
<line x1="436.5" y1="324.7" x2="436.5" y2="334.5" stroke="#d8301f" stroke-width="1.3"/>
<rect x="435.28" y="326.6" width="2.5" height="7.2" fill="#d8301f"/>
<line x1="437.9" y1="323.6" x2="437.9" y2="332.7" stroke="#d8301f" stroke-width="1.3"/>
<rect x="436.61" y="325.2" width="2.5" height="1.4" fill="#d8301f"/>
<line x1="439.2" y1="324.3" x2="439.2" y2="340.6" stroke="#2f9428" stroke-width="1.3"/>
<rect x="437.94" y="325.2" width="2.5" height="12.4" fill="#2f9428"/>
<line x1="440.5" y1="323.6" x2="440.5" y2="339.8" stroke="#d8301f" stroke-width="1.3"/>
<rect x="439.27" y="325.6" width="2.5" height="12.0" fill="#d8301f"/>
<line x1="441.9" y1="324.2" x2="441.9" y2="328.0" stroke="#2f9428" stroke-width="1.3"/>
<rect x="440.60" y="325.6" width="2.5" height="2.0" fill="#2f9428"/>
<line x1="443.2" y1="326.3" x2="443.2" y2="333.2" stroke="#2f9428" stroke-width="1.3"/>
<rect x="441.93" y="327.6" width="2.5" height="2.9" fill="#2f9428"/>
<line x1="444.5" y1="327.5" x2="444.5" y2="333.4" stroke="#2f9428" stroke-width="1.3"/>
<rect x="443.26" y="330.5" width="2.5" height="0.8" fill="#2f9428"/>
<line x1="445.8" y1="330.2" x2="445.8" y2="342.9" stroke="#2f9428" stroke-width="1.3"/>
<rect x="444.60" y="330.8" width="2.5" height="7.1" fill="#2f9428"/>
<line x1="447.2" y1="334.4" x2="447.2" y2="338.0" stroke="#d8301f" stroke-width="1.3"/>
<rect x="445.93" y="334.9" width="2.5" height="3.0" fill="#d8301f"/>
<line x1="448.5" y1="331.7" x2="448.5" y2="335.0" stroke="#d8301f" stroke-width="1.3"/>
<rect x="447.26" y="334.5" width="2.5" height="0.8" fill="#d8301f"/>
<line x1="449.8" y1="326.8" x2="449.8" y2="335.2" stroke="#d8301f" stroke-width="1.3"/>
<rect x="448.59" y="328.9" width="2.5" height="5.6" fill="#d8301f"/>
<line x1="451.2" y1="321.5" x2="451.2" y2="330.7" stroke="#d8301f" stroke-width="1.3"/>
<rect x="449.92" y="323.1" width="2.5" height="5.8" fill="#d8301f"/>
<line x1="452.5" y1="321.0" x2="452.5" y2="331.6" stroke="#2f9428" stroke-width="1.3"/>
<rect x="451.25" y="323.1" width="2.5" height="3.9" fill="#2f9428"/>
<line x1="453.8" y1="322.7" x2="453.8" y2="327.6" stroke="#2f9428" stroke-width="1.3"/>
<rect x="452.58" y="327.0" width="2.5" height="0.8" fill="#2f9428"/>
<line x1="455.2" y1="326.8" x2="455.2" y2="331.1" stroke="#2f9428" stroke-width="1.3"/>
<rect x="453.91" y="327.5" width="2.5" height="2.5" fill="#2f9428"/>
<line x1="456.5" y1="326.4" x2="456.5" y2="332.6" stroke="#2f9428" stroke-width="1.3"/>
<rect x="455.25" y="330.0" width="2.5" height="0.8" fill="#2f9428"/>
<line x1="457.8" y1="329.1" x2="457.8" y2="337.9" stroke="#2f9428" stroke-width="1.3"/>
<rect x="456.58" y="330.8" width="2.5" height="5.9" fill="#2f9428"/>
<line x1="459.2" y1="333.8" x2="459.2" y2="338.5" stroke="#d8301f" stroke-width="1.3"/>
<rect x="457.91" y="335.5" width="2.5" height="1.2" fill="#d8301f"/>
<line x1="460.5" y1="332.3" x2="460.5" y2="344.1" stroke="#2f9428" stroke-width="1.3"/>
<rect x="459.24" y="335.5" width="2.5" height="8.5" fill="#2f9428"/>
<line x1="461.8" y1="342.5" x2="461.8" y2="351.2" stroke="#2f9428" stroke-width="1.3"/>
<rect x="460.57" y="344.0" width="2.5" height="5.5" fill="#2f9428"/>
<line x1="463.2" y1="349.4" x2="463.2" y2="364.3" stroke="#2f9428" stroke-width="1.3"/>
<rect x="461.90" y="349.5" width="2.5" height="11.0" fill="#2f9428"/>
<line x1="464.5" y1="351.9" x2="464.5" y2="362.6" stroke="#d8301f" stroke-width="1.3"/>
<rect x="463.23" y="355.0" width="2.5" height="5.5" fill="#d8301f"/>
<line x1="465.8" y1="348.2" x2="465.8" y2="359.6" stroke="#d8301f" stroke-width="1.3"/>
<rect x="464.57" y="349.3" width="2.5" height="5.7" fill="#d8301f"/>
<line x1="467.1" y1="349.3" x2="467.1" y2="355.6" stroke="#2f9428" stroke-width="1.3"/>
<rect x="465.90" y="349.3" width="2.5" height="4.8" fill="#2f9428"/>
<line x1="468.5" y1="352.7" x2="468.5" y2="354.4" stroke="#2f9428" stroke-width="1.3"/>
<rect x="467.23" y="354.0" width="2.5" height="0.8" fill="#2f9428"/>
<line x1="469.8" y1="350.8" x2="469.8" y2="362.6" stroke="#2f9428" stroke-width="1.3"/>
<rect x="468.56" y="354.3" width="2.5" height="4.9" fill="#2f9428"/>
<line x1="471.1" y1="356.6" x2="471.1" y2="365.0" stroke="#2f9428" stroke-width="1.3"/>
<rect x="469.89" y="359.2" width="2.5" height="3.6" fill="#2f9428"/>
<line x1="472.5" y1="357.2" x2="472.5" y2="365.7" stroke="#d8301f" stroke-width="1.3"/>
<rect x="471.22" y="360.1" width="2.5" height="2.6" fill="#d8301f"/>
<line x1="473.8" y1="352.0" x2="473.8" y2="361.0" stroke="#d8301f" stroke-width="1.3"/>
<rect x="472.55" y="354.4" width="2.5" height="5.7" fill="#d8301f"/>
<line x1="475.1" y1="354.3" x2="475.1" y2="357.6" stroke="#2f9428" stroke-width="1.3"/>
<rect x="473.88" y="354.4" width="2.5" height="2.6" fill="#2f9428"/>
<line x1="476.5" y1="355.9" x2="476.5" y2="359.2" stroke="#d8301f" stroke-width="1.3"/>
<rect x="475.22" y="356.2" width="2.5" height="0.8" fill="#d8301f"/>
<line x1="477.8" y1="356.1" x2="477.8" y2="362.4" stroke="#2f9428" stroke-width="1.3"/>
<rect x="476.55" y="356.2" width="2.5" height="3.5" fill="#2f9428"/>
<line x1="479.1" y1="354.2" x2="479.1" y2="360.3" stroke="#d8301f" stroke-width="1.3"/>
<rect x="477.88" y="354.4" width="2.5" height="5.3" fill="#d8301f"/>
<line x1="480.5" y1="353.4" x2="480.5" y2="357.6" stroke="#2f9428" stroke-width="1.3"/>
<rect x="479.21" y="354.4" width="2.5" height="2.8" fill="#2f9428"/>
<line x1="481.8" y1="355.0" x2="481.8" y2="357.5" stroke="#d8301f" stroke-width="1.3"/>
<rect x="480.54" y="356.8" width="2.5" height="0.8" fill="#d8301f"/>
<line x1="483.1" y1="355.9" x2="483.1" y2="365.1" stroke="#2f9428" stroke-width="1.3"/>
<rect x="481.87" y="356.8" width="2.5" height="5.4" fill="#2f9428"/>
<line x1="484.5" y1="360.8" x2="484.5" y2="365.0" stroke="#2f9428" stroke-width="1.3"/>
<rect x="483.20" y="362.2" width="2.5" height="2.6" fill="#2f9428"/>
<line x1="485.8" y1="363.8" x2="485.8" y2="366.1" stroke="#d8301f" stroke-width="1.3"/>
<rect x="484.54" y="364.6" width="2.5" height="0.8" fill="#d8301f"/>
<line x1="487.1" y1="362.3" x2="487.1" y2="365.3" stroke="#d8301f" stroke-width="1.3"/>
<rect x="485.87" y="364.0" width="2.5" height="0.8" fill="#d8301f"/>
<line x1="488.4" y1="356.9" x2="488.4" y2="364.9" stroke="#d8301f" stroke-width="1.3"/>
<rect x="487.20" y="357.4" width="2.5" height="6.5" fill="#d8301f"/>
<line x1="489.8" y1="356.3" x2="489.8" y2="365.9" stroke="#2f9428" stroke-width="1.3"/>
<rect x="488.53" y="357.4" width="2.5" height="4.5" fill="#2f9428"/>
<line x1="491.1" y1="360.7" x2="491.1" y2="364.1" stroke="#2f9428" stroke-width="1.3"/>
<rect x="489.86" y="362.0" width="2.5" height="2.1" fill="#2f9428"/>
<line x1="492.4" y1="359.0" x2="492.4" y2="367.5" stroke="#2f9428" stroke-width="1.3"/>
<rect x="491.19" y="364.1" width="2.5" height="0.8" fill="#2f9428"/>
<line x1="493.8" y1="362.6" x2="493.8" y2="364.4" stroke="#d8301f" stroke-width="1.3"/>
<rect x="492.52" y="363.6" width="2.5" height="0.8" fill="#d8301f"/>
<line x1="495.1" y1="363.3" x2="495.1" y2="365.6" stroke="#2f9428" stroke-width="1.3"/>
<rect x="493.85" y="363.6" width="2.5" height="1.3" fill="#2f9428"/>
<line x1="496.4" y1="364.4" x2="496.4" y2="370.8" stroke="#2f9428" stroke-width="1.3"/>
<rect x="495.19" y="364.8" width="2.5" height="5.4" fill="#2f9428"/>
<line x1="497.8" y1="367.3" x2="497.8" y2="371.5" stroke="#d8301f" stroke-width="1.3"/>
<rect x="496.52" y="367.4" width="2.5" height="2.8" fill="#d8301f"/>
<line x1="499.1" y1="364.1" x2="499.1" y2="370.3" stroke="#2f9428" stroke-width="1.3"/>
<rect x="497.85" y="367.4" width="2.5" height="1.4" fill="#2f9428"/>
<line x1="500.4" y1="366.9" x2="500.4" y2="370.6" stroke="#d8301f" stroke-width="1.3"/>
<rect x="499.18" y="366.9" width="2.5" height="1.9" fill="#d8301f"/>
<line x1="501.8" y1="365.1" x2="501.8" y2="373.3" stroke="#2f9428" stroke-width="1.3"/>
<rect x="500.51" y="366.9" width="2.5" height="5.4" fill="#2f9428"/>
<line x1="503.1" y1="371.2" x2="503.1" y2="373.6" stroke="#2f9428" stroke-width="1.3"/>
<rect x="501.84" y="372.3" width="2.5" height="0.8" fill="#2f9428"/>
<line x1="504.4" y1="367.3" x2="504.4" y2="373.1" stroke="#d8301f" stroke-width="1.3"/>
<rect x="503.17" y="368.6" width="2.5" height="4.0" fill="#d8301f"/>
<line x1="505.8" y1="359.3" x2="505.8" y2="368.8" stroke="#d8301f" stroke-width="1.3"/>
<rect x="504.51" y="360.2" width="2.5" height="8.4" fill="#d8301f"/>
<line x1="507.1" y1="357.6" x2="507.1" y2="360.6" stroke="#2f9428" stroke-width="1.3"/>
<rect x="505.84" y="360.2" width="2.5" height="0.8" fill="#2f9428"/>
<line x1="508.4" y1="355.6" x2="508.4" y2="361.6" stroke="#d8301f" stroke-width="1.3"/>
<rect x="507.17" y="356.5" width="2.5" height="4.0" fill="#d8301f"/>
<line x1="509.7" y1="356.3" x2="509.7" y2="363.2" stroke="#2f9428" stroke-width="1.3"/>
<rect x="508.50" y="356.5" width="2.5" height="5.3" fill="#2f9428"/>
<line x1="511.1" y1="352.6" x2="511.1" y2="363.0" stroke="#d8301f" stroke-width="1.3"/>
<rect x="509.83" y="354.4" width="2.5" height="7.5" fill="#d8301f"/>
<line x1="512.4" y1="348.5" x2="512.4" y2="355.5" stroke="#d8301f" stroke-width="1.3"/>
<rect x="511.16" y="352.4" width="2.5" height="2.0" fill="#d8301f"/>
<line x1="513.7" y1="352.1" x2="513.7" y2="355.6" stroke="#2f9428" stroke-width="1.3"/>
<rect x="512.49" y="352.4" width="2.5" height="2.9" fill="#2f9428"/>
<line x1="515.1" y1="351.7" x2="515.1" y2="355.9" stroke="#d8301f" stroke-width="1.3"/>
<rect x="513.82" y="354.8" width="2.5" height="0.8" fill="#d8301f"/>
<line x1="516.4" y1="353.0" x2="516.4" y2="359.1" stroke="#2f9428" stroke-width="1.3"/>
<rect x="515.16" y="354.8" width="2.5" height="3.0" fill="#2f9428"/>
<line x1="517.7" y1="357.8" x2="517.7" y2="364.7" stroke="#2f9428" stroke-width="1.3"/>
<rect x="516.49" y="357.8" width="2.5" height="6.9" fill="#2f9428"/>
<line x1="519.1" y1="361.5" x2="519.1" y2="368.8" stroke="#2f9428" stroke-width="1.3"/>
<rect x="517.82" y="364.7" width="2.5" height="1.5" fill="#2f9428"/>
<line x1="520.4" y1="360.4" x2="520.4" y2="369.3" stroke="#d8301f" stroke-width="1.3"/>
<rect x="519.15" y="362.0" width="2.5" height="4.2" fill="#d8301f"/>
<line x1="521.7" y1="357.8" x2="521.7" y2="362.3" stroke="#d8301f" stroke-width="1.3"/>
<rect x="520.48" y="359.3" width="2.5" height="2.8" fill="#d8301f"/>
<line x1="523.1" y1="358.4" x2="523.1" y2="360.2" stroke="#2f9428" stroke-width="1.3"/>
<rect x="521.81" y="359.3" width="2.5" height="0.8" fill="#2f9428"/>
<line x1="524.4" y1="355.2" x2="524.4" y2="359.9" stroke="#d8301f" stroke-width="1.3"/>
<rect x="523.14" y="358.1" width="2.5" height="1.3" fill="#d8301f"/>
<line x1="525.7" y1="355.2" x2="525.7" y2="359.3" stroke="#d8301f" stroke-width="1.3"/>
<rect x="524.48" y="358.1" width="2.5" height="0.8" fill="#d8301f"/>
<line x1="527.1" y1="356.2" x2="527.1" y2="362.5" stroke="#2f9428" stroke-width="1.3"/>
<rect x="525.81" y="358.1" width="2.5" height="1.8" fill="#2f9428"/>
<line x1="528.4" y1="355.7" x2="528.4" y2="360.6" stroke="#d8301f" stroke-width="1.3"/>
<rect x="527.14" y="358.1" width="2.5" height="1.9" fill="#d8301f"/>
<line x1="529.7" y1="351.0" x2="529.7" y2="358.9" stroke="#d8301f" stroke-width="1.3"/>
<rect x="528.47" y="354.4" width="2.5" height="3.6" fill="#d8301f"/>
<line x1="531.1" y1="353.9" x2="531.1" y2="361.4" stroke="#2f9428" stroke-width="1.3"/>
<rect x="529.80" y="354.4" width="2.5" height="2.6" fill="#2f9428"/>
<line x1="532.4" y1="356.0" x2="532.4" y2="359.2" stroke="#2f9428" stroke-width="1.3"/>
<rect x="531.13" y="357.0" width="2.5" height="0.9" fill="#2f9428"/>
<line x1="533.7" y1="356.6" x2="533.7" y2="359.0" stroke="#d8301f" stroke-width="1.3"/>
<rect x="532.46" y="357.7" width="2.5" height="0.8" fill="#d8301f"/>
<line x1="535.0" y1="353.7" x2="535.0" y2="359.9" stroke="#d8301f" stroke-width="1.3"/>
<rect x="533.79" y="355.7" width="2.5" height="2.0" fill="#d8301f"/>
<line x1="536.4" y1="352.2" x2="536.4" y2="356.2" stroke="#d8301f" stroke-width="1.3"/>
<rect x="535.13" y="352.8" width="2.5" height="2.9" fill="#d8301f"/>
<line x1="537.7" y1="350.1" x2="537.7" y2="355.1" stroke="#2f9428" stroke-width="1.3"/>
<rect x="536.46" y="352.8" width="2.5" height="1.9" fill="#2f9428"/>
<line x1="539.0" y1="353.1" x2="539.0" y2="355.6" stroke="#d8301f" stroke-width="1.3"/>
<rect x="537.79" y="354.2" width="2.5" height="0.8" fill="#d8301f"/>
<line x1="540.4" y1="353.9" x2="540.4" y2="355.0" stroke="#2f9428" stroke-width="1.3"/>
<rect x="539.12" y="354.2" width="2.5" height="0.8" fill="#2f9428"/>
<line x1="541.7" y1="354.2" x2="541.7" y2="358.1" stroke="#2f9428" stroke-width="1.3"/>
<rect x="540.45" y="354.9" width="2.5" height="1.2" fill="#2f9428"/>
<line x1="543.0" y1="353.3" x2="543.0" y2="359.9" stroke="#2f9428" stroke-width="1.3"/>
<rect x="541.78" y="356.0" width="2.5" height="3.1" fill="#2f9428"/>
<line x1="544.4" y1="357.6" x2="544.4" y2="362.0" stroke="#2f9428" stroke-width="1.3"/>
<rect x="543.11" y="359.2" width="2.5" height="1.4" fill="#2f9428"/>
<line x1="545.7" y1="360.4" x2="545.7" y2="365.7" stroke="#2f9428" stroke-width="1.3"/>
<rect x="544.45" y="360.6" width="2.5" height="1.9" fill="#2f9428"/>
<line x1="547.0" y1="359.7" x2="547.0" y2="364.1" stroke="#2f9428" stroke-width="1.3"/>
<rect x="545.78" y="362.5" width="2.5" height="1.0" fill="#2f9428"/>
<line x1="548.4" y1="361.7" x2="548.4" y2="363.8" stroke="#d8301f" stroke-width="1.3"/>
<rect x="547.11" y="361.8" width="2.5" height="1.6" fill="#d8301f"/>
<line x1="549.7" y1="358.5" x2="549.7" y2="361.9" stroke="#d8301f" stroke-width="1.3"/>
<rect x="548.44" y="361.3" width="2.5" height="0.8" fill="#d8301f"/>
<line x1="551.0" y1="355.9" x2="551.0" y2="362.0" stroke="#d8301f" stroke-width="1.3"/>
<rect x="549.77" y="357.2" width="2.5" height="4.1" fill="#d8301f"/>
<line x1="552.4" y1="352.2" x2="552.4" y2="361.1" stroke="#d8301f" stroke-width="1.3"/>
<rect x="551.10" y="354.4" width="2.5" height="2.8" fill="#d8301f"/>
<line x1="553.7" y1="354.4" x2="553.7" y2="355.3" stroke="#2f9428" stroke-width="1.3"/>
<rect x="552.43" y="354.4" width="2.5" height="0.8" fill="#2f9428"/>
<line x1="555.0" y1="353.7" x2="555.0" y2="357.8" stroke="#2f9428" stroke-width="1.3"/>
<rect x="553.76" y="354.8" width="2.5" height="1.3" fill="#2f9428"/>
<line x1="556.3" y1="355.5" x2="556.3" y2="358.1" stroke="#2f9428" stroke-width="1.3"/>
<rect x="555.10" y="356.0" width="2.5" height="0.9" fill="#2f9428"/>
<line x1="557.7" y1="354.2" x2="557.7" y2="360.0" stroke="#d8301f" stroke-width="1.3"/>
<rect x="556.43" y="355.1" width="2.5" height="1.8" fill="#d8301f"/>
<line x1="559.0" y1="346.6" x2="559.0" y2="355.2" stroke="#d8301f" stroke-width="1.3"/>
<rect x="557.76" y="348.1" width="2.5" height="7.1" fill="#d8301f"/>
<line x1="560.3" y1="344.6" x2="560.3" y2="348.4" stroke="#d8301f" stroke-width="1.3"/>
<rect x="559.09" y="346.4" width="2.5" height="1.7" fill="#d8301f"/>
<line x1="561.7" y1="339.4" x2="561.7" y2="347.9" stroke="#d8301f" stroke-width="1.3"/>
<rect x="560.42" y="340.1" width="2.5" height="6.3" fill="#d8301f"/>
<line x1="563.0" y1="339.4" x2="563.0" y2="347.7" stroke="#2f9428" stroke-width="1.3"/>
<rect x="561.75" y="340.1" width="2.5" height="3.9" fill="#2f9428"/>
<line x1="564.3" y1="339.6" x2="564.3" y2="349.3" stroke="#d8301f" stroke-width="1.3"/>
<rect x="563.08" y="341.2" width="2.5" height="2.8" fill="#d8301f"/>
<line x1="565.7" y1="339.7" x2="565.7" y2="344.6" stroke="#2f9428" stroke-width="1.3"/>
<rect x="564.42" y="341.2" width="2.5" height="3.4" fill="#2f9428"/>
<line x1="567.0" y1="340.1" x2="567.0" y2="346.8" stroke="#d8301f" stroke-width="1.3"/>
<rect x="565.75" y="340.5" width="2.5" height="4.1" fill="#d8301f"/>
<line x1="568.3" y1="333.0" x2="568.3" y2="345.4" stroke="#d8301f" stroke-width="1.3"/>
<rect x="567.08" y="336.0" width="2.5" height="4.5" fill="#d8301f"/>
<line x1="569.7" y1="334.5" x2="569.7" y2="339.4" stroke="#2f9428" stroke-width="1.3"/>
<rect x="568.41" y="336.0" width="2.5" height="1.6" fill="#2f9428"/>
<line x1="571.0" y1="333.9" x2="571.0" y2="343.8" stroke="#d8301f" stroke-width="1.3"/>
<rect x="569.74" y="335.4" width="2.5" height="2.1" fill="#d8301f"/>
<line x1="572.3" y1="328.2" x2="572.3" y2="336.0" stroke="#d8301f" stroke-width="1.3"/>
<rect x="571.07" y="328.8" width="2.5" height="6.7" fill="#d8301f"/>
<line x1="573.7" y1="322.4" x2="573.7" y2="329.7" stroke="#d8301f" stroke-width="1.3"/>
<rect x="572.40" y="324.8" width="2.5" height="3.9" fill="#d8301f"/>
<line x1="575.0" y1="316.9" x2="575.0" y2="328.1" stroke="#d8301f" stroke-width="1.3"/>
<rect x="573.73" y="321.5" width="2.5" height="3.4" fill="#d8301f"/>
<line x1="576.3" y1="307.4" x2="576.3" y2="330.8" stroke="#d8301f" stroke-width="1.3"/>
<rect x="575.07" y="308.6" width="2.5" height="12.9" fill="#d8301f"/>
<line x1="577.6" y1="301.4" x2="577.6" y2="310.2" stroke="#2f9428" stroke-width="1.3"/>
<rect x="576.40" y="308.6" width="2.5" height="0.8" fill="#2f9428"/>
<line x1="579.0" y1="306.3" x2="579.0" y2="321.1" stroke="#2f9428" stroke-width="1.3"/>
<rect x="577.73" y="309.1" width="2.5" height="5.8" fill="#2f9428"/>
<line x1="580.3" y1="314.9" x2="580.3" y2="316.7" stroke="#2f9428" stroke-width="1.3"/>
<rect x="579.06" y="314.9" width="2.5" height="1.1" fill="#2f9428"/>
<line x1="581.6" y1="314.6" x2="581.6" y2="325.1" stroke="#2f9428" stroke-width="1.3"/>
<rect x="580.39" y="316.0" width="2.5" height="6.9" fill="#2f9428"/>
<line x1="583.0" y1="313.0" x2="583.0" y2="324.6" stroke="#d8301f" stroke-width="1.3"/>
<rect x="581.72" y="314.9" width="2.5" height="8.0" fill="#d8301f"/>
<line x1="584.3" y1="314.8" x2="584.3" y2="318.2" stroke="#2f9428" stroke-width="1.3"/>
<rect x="583.05" y="314.9" width="2.5" height="3.1" fill="#2f9428"/>
<line x1="585.6" y1="317.5" x2="585.6" y2="328.7" stroke="#2f9428" stroke-width="1.3"/>
<rect x="584.39" y="318.0" width="2.5" height="8.3" fill="#2f9428"/>
<line x1="587.0" y1="325.1" x2="587.0" y2="327.6" stroke="#2f9428" stroke-width="1.3"/>
<rect x="585.72" y="326.3" width="2.5" height="0.9" fill="#2f9428"/>
<line x1="588.3" y1="321.9" x2="588.3" y2="327.6" stroke="#d8301f" stroke-width="1.3"/>
<rect x="587.05" y="323.7" width="2.5" height="3.6" fill="#d8301f"/>
<line x1="589.6" y1="310.8" x2="589.6" y2="327.6" stroke="#d8301f" stroke-width="1.3"/>
<rect x="588.38" y="314.1" width="2.5" height="9.6" fill="#d8301f"/>
<line x1="591.0" y1="312.8" x2="591.0" y2="326.0" stroke="#2f9428" stroke-width="1.3"/>
<rect x="589.71" y="314.1" width="2.5" height="9.3" fill="#2f9428"/>
<line x1="592.3" y1="317.3" x2="592.3" y2="324.4" stroke="#d8301f" stroke-width="1.3"/>
<rect x="591.04" y="320.3" width="2.5" height="3.2" fill="#d8301f"/>
<line x1="593.6" y1="315.9" x2="593.6" y2="324.7" stroke="#d8301f" stroke-width="1.3"/>
<rect x="592.37" y="320.2" width="2.5" height="0.8" fill="#d8301f"/>
<line x1="595.0" y1="319.3" x2="595.0" y2="326.8" stroke="#2f9428" stroke-width="1.3"/>
<rect x="593.70" y="320.2" width="2.5" height="4.2" fill="#2f9428"/>
<line x1="596.3" y1="322.0" x2="596.3" y2="324.8" stroke="#d8301f" stroke-width="1.3"/>
<rect x="595.04" y="322.6" width="2.5" height="1.9" fill="#d8301f"/>
<line x1="597.6" y1="318.4" x2="597.6" y2="325.7" stroke="#2f9428" stroke-width="1.3"/>
<rect x="596.37" y="322.6" width="2.5" height="0.8" fill="#2f9428"/>
<line x1="598.9" y1="319.4" x2="598.9" y2="323.9" stroke="#d8301f" stroke-width="1.3"/>
<rect x="597.70" y="319.5" width="2.5" height="3.7" fill="#d8301f"/>
<line x1="600.3" y1="318.5" x2="600.3" y2="322.0" stroke="#2f9428" stroke-width="1.3"/>
<rect x="599.03" y="319.5" width="2.5" height="2.3" fill="#2f9428"/>
<line x1="601.6" y1="312.6" x2="601.6" y2="322.7" stroke="#d8301f" stroke-width="1.3"/>
<rect x="600.36" y="314.5" width="2.5" height="7.2" fill="#d8301f"/>
<line x1="602.9" y1="302.2" x2="602.9" y2="320.7" stroke="#d8301f" stroke-width="1.3"/>
<rect x="601.69" y="310.8" width="2.5" height="3.8" fill="#d8301f"/>
<line x1="604.3" y1="309.5" x2="604.3" y2="315.7" stroke="#2f9428" stroke-width="1.3"/>
<rect x="603.02" y="310.8" width="2.5" height="3.0" fill="#2f9428"/>
<line x1="605.6" y1="309.9" x2="605.6" y2="319.2" stroke="#2f9428" stroke-width="1.3"/>
<rect x="604.36" y="313.8" width="2.5" height="4.4" fill="#2f9428"/>
<line x1="606.9" y1="317.8" x2="606.9" y2="325.3" stroke="#2f9428" stroke-width="1.3"/>
<rect x="605.69" y="318.1" width="2.5" height="2.8" fill="#2f9428"/>
<line x1="608.3" y1="320.1" x2="608.3" y2="324.7" stroke="#2f9428" stroke-width="1.3"/>
<rect x="607.02" y="321.0" width="2.5" height="1.7" fill="#2f9428"/>
<line x1="609.6" y1="318.2" x2="609.6" y2="326.7" stroke="#2f9428" stroke-width="1.3"/>
<rect x="608.35" y="322.7" width="2.5" height="3.9" fill="#2f9428"/>
<line x1="610.9" y1="323.3" x2="610.9" y2="334.2" stroke="#2f9428" stroke-width="1.3"/>
<rect x="609.68" y="326.6" width="2.5" height="3.7" fill="#2f9428"/>
<line x1="612.3" y1="329.7" x2="612.3" y2="332.7" stroke="#2f9428" stroke-width="1.3"/>
<rect x="611.01" y="330.3" width="2.5" height="2.2" fill="#2f9428"/>
<line x1="613.6" y1="323.4" x2="613.6" y2="335.3" stroke="#d8301f" stroke-width="1.3"/>
<rect x="612.34" y="323.7" width="2.5" height="8.8" fill="#d8301f"/>
<line x1="614.9" y1="313.0" x2="614.9" y2="325.4" stroke="#d8301f" stroke-width="1.3"/>
<rect x="613.67" y="319.7" width="2.5" height="4.0" fill="#d8301f"/>
<line x1="616.3" y1="309.7" x2="616.3" y2="321.0" stroke="#d8301f" stroke-width="1.3"/>
<rect x="615.01" y="311.4" width="2.5" height="8.3" fill="#d8301f"/>
<line x1="617.6" y1="308.3" x2="617.6" y2="320.4" stroke="#2f9428" stroke-width="1.3"/>
<rect x="616.34" y="311.4" width="2.5" height="7.6" fill="#2f9428"/>
<line x1="618.9" y1="306.8" x2="618.9" y2="319.7" stroke="#d8301f" stroke-width="1.3"/>
<rect x="617.67" y="308.6" width="2.5" height="10.4" fill="#d8301f"/>
<line x1="620.2" y1="306.0" x2="620.2" y2="313.3" stroke="#d8301f" stroke-width="1.3"/>
<rect x="619.00" y="307.7" width="2.5" height="0.9" fill="#d8301f"/>
<line x1="621.6" y1="301.7" x2="621.6" y2="313.5" stroke="#2f9428" stroke-width="1.3"/>
<rect x="620.33" y="307.7" width="2.5" height="1.2" fill="#2f9428"/>
<line x1="622.9" y1="306.7" x2="622.9" y2="314.2" stroke="#2f9428" stroke-width="1.3"/>
<rect x="621.66" y="308.8" width="2.5" height="3.7" fill="#2f9428"/>
<line x1="624.2" y1="308.5" x2="624.2" y2="315.0" stroke="#d8301f" stroke-width="1.3"/>
<rect x="622.99" y="309.7" width="2.5" height="2.8" fill="#d8301f"/>
<line x1="625.6" y1="309.4" x2="625.6" y2="311.1" stroke="#2f9428" stroke-width="1.3"/>
<rect x="624.33" y="309.7" width="2.5" height="0.8" fill="#2f9428"/>
<line x1="626.9" y1="308.3" x2="626.9" y2="321.4" stroke="#2f9428" stroke-width="1.3"/>
<rect x="625.66" y="309.9" width="2.5" height="6.9" fill="#2f9428"/>
<line x1="628.2" y1="307.4" x2="628.2" y2="317.9" stroke="#d8301f" stroke-width="1.3"/>
<rect x="626.99" y="307.4" width="2.5" height="9.4" fill="#d8301f"/>
<line x1="629.6" y1="299.7" x2="629.6" y2="308.3" stroke="#d8301f" stroke-width="1.3"/>
<rect x="628.32" y="303.6" width="2.5" height="3.8" fill="#d8301f"/>
<line x1="630.9" y1="297.0" x2="630.9" y2="311.4" stroke="#d8301f" stroke-width="1.3"/>
<rect x="629.65" y="302.6" width="2.5" height="1.0" fill="#d8301f"/>
<line x1="632.2" y1="295.6" x2="632.2" y2="309.2" stroke="#2f9428" stroke-width="1.3"/>
<rect x="630.98" y="302.6" width="2.5" height="0.8" fill="#2f9428"/>
<line x1="633.6" y1="302.8" x2="633.6" y2="305.1" stroke="#2f9428" stroke-width="1.3"/>
<rect x="632.31" y="302.9" width="2.5" height="0.9" fill="#2f9428"/>
<line x1="634.9" y1="286.6" x2="634.9" y2="305.9" stroke="#d8301f" stroke-width="1.3"/>
<rect x="633.64" y="289.9" width="2.5" height="13.9" fill="#d8301f"/>
<line x1="636.2" y1="276.2" x2="636.2" y2="293.6" stroke="#d8301f" stroke-width="1.3"/>
<rect x="634.98" y="286.6" width="2.5" height="3.4" fill="#d8301f"/>
<line x1="637.6" y1="283.1" x2="637.6" y2="290.2" stroke="#d8301f" stroke-width="1.3"/>
<rect x="636.31" y="283.4" width="2.5" height="3.1" fill="#d8301f"/>
<line x1="638.9" y1="279.4" x2="638.9" y2="287.7" stroke="#2f9428" stroke-width="1.3"/>
<rect x="637.64" y="283.4" width="2.5" height="0.8" fill="#2f9428"/>
<line x1="640.2" y1="274.3" x2="640.2" y2="291.0" stroke="#d8301f" stroke-width="1.3"/>
<rect x="638.97" y="274.4" width="2.5" height="9.5" fill="#d8301f"/>
<line x1="641.6" y1="268.9" x2="641.6" y2="276.1" stroke="#d8301f" stroke-width="1.3"/>
<rect x="640.30" y="269.9" width="2.5" height="4.5" fill="#d8301f"/>
<line x1="642.9" y1="259.3" x2="642.9" y2="272.7" stroke="#d8301f" stroke-width="1.3"/>
<rect x="641.63" y="261.1" width="2.5" height="8.8" fill="#d8301f"/>
<line x1="644.2" y1="251.1" x2="644.2" y2="262.8" stroke="#d8301f" stroke-width="1.3"/>
<rect x="642.96" y="254.8" width="2.5" height="6.4" fill="#d8301f"/>
<line x1="645.5" y1="254.6" x2="645.5" y2="262.4" stroke="#2f9428" stroke-width="1.3"/>
<rect x="644.30" y="254.8" width="2.5" height="4.9" fill="#2f9428"/>
<line x1="646.9" y1="259.6" x2="646.9" y2="265.6" stroke="#2f9428" stroke-width="1.3"/>
<rect x="645.63" y="259.7" width="2.5" height="2.8" fill="#2f9428"/>
<line x1="648.2" y1="243.7" x2="648.2" y2="269.5" stroke="#d8301f" stroke-width="1.3"/>
<rect x="646.96" y="248.8" width="2.5" height="13.7" fill="#d8301f"/>
<line x1="649.5" y1="244.5" x2="649.5" y2="250.7" stroke="#d8301f" stroke-width="1.3"/>
<rect x="648.29" y="247.9" width="2.5" height="0.9" fill="#d8301f"/>
<line x1="650.9" y1="214.9" x2="650.9" y2="256.2" stroke="#d8301f" stroke-width="1.3"/>
<rect x="649.62" y="226.8" width="2.5" height="21.1" fill="#d8301f"/>
<line x1="652.2" y1="210.6" x2="652.2" y2="227.0" stroke="#d8301f" stroke-width="1.3"/>
<rect x="650.95" y="214.3" width="2.5" height="12.5" fill="#d8301f"/>
<polyline points="89.0,418.1 90.4,418.1 91.7,418.2 93.0,418.3 94.4,418.4 95.7,418.5 97.0,418.7 98.4,418.8 99.7,418.9 101.0,419.1 102.4,419.3 103.7,419.4 105.0,419.5 106.4,419.7 107.7,419.7 109.0,419.9 110.3,420.0 111.7,420.1 113.0,420.2 114.3,420.3 115.7,420.3 117.0,420.4 118.3,420.3 119.7,420.4 121.0,420.4 122.3,420.4 123.7,420.5 125.0,420.6 126.3,420.7 127.7,420.9 129.0,421.0 130.3,421.1 131.7,421.2 133.0,421.3 134.3,421.3 135.6,421.4 137.0,421.5 138.3,421.6 139.6,421.7 141.0,421.8 142.3,421.8 143.6,421.8 145.0,421.8 146.3,421.7 147.6,421.7 149.0,421.7 150.3,421.7 151.6,421.6 153.0,421.6 154.3,421.5 155.6,421.5 156.9,421.4 158.3,421.4 159.6,421.3 160.9,421.2 162.3,421.2 163.6,421.0 164.9,420.9 166.3,420.8 167.6,420.7 168.9,420.7 170.3,420.6 171.6,420.5 172.9,420.4 174.3,420.3 175.6,420.2 176.9,420.1 178.2,419.9 179.6,419.8 180.9,419.8 182.2,419.8 183.6,419.7 184.9,419.7 186.2,419.7 187.6,419.6 188.9,419.5 190.2,419.5 191.6,419.5 192.9,419.5 194.2,419.5 195.6,419.5 196.9,419.5 198.2,419.5 199.5,419.6 200.9,419.6 202.2,419.7 203.5,419.8 204.9,419.9 206.2,420.0 207.5,420.1 208.9,420.2 210.2,420.3 211.5,420.5 212.9,420.6 214.2,420.8 215.5,421.1 216.9,421.2 218.2,421.4 219.5,421.6 220.8,421.8 222.2,422.0 223.5,422.2 224.8,422.4 226.2,422.7 227.5,422.9 228.8,423.2 230.2,423.4 231.5,423.6 232.8,423.8 234.2,424.0 235.5,424.3 236.8,424.5 238.2,424.7 239.5,424.9 240.8,425.1 242.2,425.4 243.5,425.5 244.8,425.5 246.1,425.7 247.5,425.8 248.8,425.9 250.1,425.9 251.5,426.0 252.8,426.1 254.1,426.2 255.5,426.2 256.8,426.2 258.1,426.3 259.5,426.3 260.8,426.4 262.1,426.5 263.5,426.5 264.8,426.6 266.1,426.6 267.4,426.7 268.8,426.7 270.1,426.8 271.4,426.8 272.8,426.9 274.1,426.9 275.4,426.9 276.8,426.9 278.1,426.9 279.4,426.9 280.8,426.8 282.1,426.7 283.4,426.7 284.8,426.7 286.1,426.6 287.4,426.5 288.7,426.5 290.1,426.5 291.4,426.4 292.7,426.3 294.1,426.2 295.4,426.0 296.7,425.8 298.1,425.7 299.4,425.5 300.7,425.4 302.1,425.2 303.4,425.0 304.7,424.8 306.1,424.6 307.4,424.3 308.7,424.0 310.0,423.7 311.4,423.4 312.7,423.1 314.0,422.8 315.4,422.5 316.7,422.3 318.0,422.0 319.4,421.8 320.7,421.5 322.0,421.3 323.4,421.0 324.7,420.7 326.0,420.5 327.4,420.2 328.7,419.9 330.0,419.7 331.4,419.4 332.7,419.2 334.0,418.9 335.3,418.7 336.7,418.6 338.0,418.4 339.3,418.1 340.7,417.8 342.0,417.5 343.3,417.1 344.7,416.7 346.0,416.3 347.3,415.8 348.7,415.2 350.0,414.6 351.3,414.1 352.7,413.6 354.0,413.1 355.3,412.7 356.6,412.2 358.0,411.6 359.3,411.0 360.6,410.4 362.0,409.8 363.3,409.2 364.6,408.6 366.0,408.1 367.3,407.6 368.6,407.1 370.0,406.5 371.3,405.8 372.6,404.9 374.0,404.1 375.3,403.1 376.6,402.0 377.9,400.7 379.3,399.7 380.6,398.8 381.9,397.9 383.3,396.9 384.6,396.1 385.9,395.5 387.3,394.8 388.6,394.6 389.9,394.2 391.3,393.6 392.6,392.9 393.9,392.2 395.3,391.4 396.6,390.8 397.9,390.0 399.2,389.3 400.6,388.6 401.9,387.9 403.2,387.2 404.6,386.3 405.9,385.1 407.2,384.1 408.6,383.1 409.9,382.1 411.2,381.2 412.6,380.3 413.9,379.3 415.2,378.4 416.6,377.8 417.9,377.1 419.2,376.2 420.6,375.1 421.9,373.9 423.2,372.8 424.5,371.8 425.9,370.5 427.2,369.2 428.5,367.2 429.9,365.6 431.2,364.1 432.5,362.5 433.9,360.5 435.2,358.8 436.5,356.9 437.9,355.1 439.2,353.6 440.5,351.8 441.9,350.1 443.2,348.6 444.5,347.1 445.8,346.3 447.2,345.1 448.5,343.9 449.8,342.6 451.2,341.1 452.5,339.8 453.8,338.7 455.2,337.7 456.5,336.6 457.8,335.8 459.2,335.2 460.5,334.9 461.8,334.9 463.2,335.3 464.5,335.4 465.8,335.4 467.1,335.7 468.5,336.2 469.8,336.8 471.1,337.5 472.5,338.4 473.8,339.6 475.1,340.3 476.5,341.3 477.8,342.5 479.1,343.0 480.5,344.1 481.8,345.1 483.1,346.1 484.5,347.2 485.8,348.1 487.1,349.1 488.4,349.8 489.8,350.9 491.1,352.3 492.4,353.6 493.8,354.8 495.1,355.9 496.4,357.3 497.8,358.3 499.1,359.4 500.4,360.2 501.8,360.9 503.1,361.3 504.4,361.8 505.8,362.2 507.1,362.4 508.4,362.4 509.7,362.5 511.1,362.3 512.4,362.0 513.7,362.0 515.1,362.0 516.4,362.0 517.7,362.2 519.1,362.6 520.4,362.7 521.7,362.8 523.1,362.7 524.4,362.5 525.7,362.3 527.1,362.1 528.4,362.2 529.7,361.9 531.1,361.7 532.4,361.5 533.7,361.3 535.0,361.0 536.4,360.4 537.7,360.0 539.0,359.5 540.4,359.1 541.7,358.5 543.0,358.1 544.4,357.8 545.7,357.9 547.0,358.0 548.4,358.2 549.7,358.2 551.0,358.3 552.4,358.3 553.7,358.3 555.0,358.3 556.3,358.3 557.7,358.0 559.0,357.4 560.3,356.9 561.7,356.2 563.0,355.7 564.3,355.1 565.7,354.7 567.0,354.0 568.3,353.3 569.7,352.7 571.0,352.0 572.3,351.0 573.7,349.9 575.0,348.8 576.3,347.3 577.6,345.8 579.0,344.5 580.3,343.2 581.6,342.1 583.0,340.6 584.3,339.2 585.6,338.0 587.0,336.8 588.3,335.5 589.6,334.0 591.0,332.9 592.3,331.7 593.6,330.6 595.0,329.5 596.3,328.4 597.6,327.3 598.9,326.4 600.3,325.5 601.6,324.7 602.9,323.6 604.3,322.7 605.6,321.8 606.9,321.1 608.3,320.7 609.6,320.3 610.9,320.1 612.3,320.3 613.6,320.2 614.9,320.2 616.3,320.3 617.6,320.6 618.9,320.4 620.2,320.1 621.6,319.6 622.9,319.6 624.2,319.3 625.6,318.7 626.9,318.4 628.2,317.8 629.6,317.5 630.9,316.8 632.2,316.2 633.6,315.7 634.9,314.5 636.2,313.3 637.6,312.0 638.9,310.8 640.2,309.3 641.6,307.8 642.9,306.1 644.2,304.2 645.5,302.3 646.9,300.3 648.2,297.9 649.5,295.3 650.9,291.9 652.2,288.0" fill="none" stroke="#3a7d66" stroke-width="1.4"/>
<polyline points="89.0,418.9 90.4,419.0 91.7,419.2 93.0,419.4 94.4,419.5 95.7,419.7 97.0,419.9 98.4,420.0 99.7,419.9 101.0,419.9 102.4,419.9 103.7,419.9 105.0,419.9 106.4,419.9 107.7,420.0 109.0,420.0 110.3,420.0 111.7,420.0 113.0,420.2 114.3,420.3 115.7,420.5 117.0,420.7 118.3,420.7 119.7,420.8 121.0,420.8 122.3,420.8 123.7,420.9 125.0,421.0 126.3,421.3 127.7,421.4 129.0,421.5 130.3,421.7 131.7,421.7 133.0,421.8 134.3,421.9 135.6,422.0 137.0,422.1 138.3,422.2 139.6,422.3 141.0,422.3 142.3,422.2 143.6,422.1 145.0,422.0 146.3,421.9 147.6,421.9 149.0,421.9 150.3,421.8 151.6,421.6 153.0,421.5 154.3,421.3 155.6,421.2 156.9,421.1 158.3,421.0 159.6,420.8 160.9,420.7 162.3,420.5 163.6,420.3 164.9,420.1 166.3,419.9 167.6,419.8 168.9,419.8 170.3,419.8 171.6,419.9 172.9,419.8 174.3,419.7 175.6,419.6 176.9,419.6 178.2,419.6 179.6,419.6 180.9,419.6 182.2,419.6 183.6,419.6 184.9,419.5 186.2,419.5 187.6,419.4 188.9,419.4 190.2,419.4 191.6,419.5 192.9,419.4 194.2,419.4 195.6,419.4 196.9,419.4 198.2,419.5 199.5,419.5 200.9,419.7 202.2,419.8 203.5,419.9 204.9,420.0 206.2,420.2 207.5,420.3 208.9,420.5 210.2,420.7 211.5,421.0 212.9,421.3 214.2,421.6 215.5,422.0 216.9,422.2 218.2,422.5 219.5,422.8 220.8,423.1 222.2,423.3 223.5,423.6 224.8,423.9 226.2,424.2 227.5,424.4 228.8,424.6 230.2,424.8 231.5,425.0 232.8,425.2 234.2,425.3 235.5,425.5 236.8,425.6 238.2,425.8 239.5,426.0 240.8,426.1 242.2,426.2 243.5,426.2 244.8,426.2 246.1,426.3 247.5,426.3 248.8,426.4 250.1,426.4 251.5,426.4 252.8,426.4 254.1,426.5 255.5,426.5 256.8,426.5 258.1,426.6 259.5,426.6 260.8,426.7 262.1,426.7 263.5,426.8 264.8,426.8 266.1,426.7 267.4,426.7 268.8,426.7 270.1,426.8 271.4,426.9 272.8,427.0 274.1,427.1 275.4,427.0 276.8,427.1 278.1,427.1 279.4,427.1 280.8,427.0 282.1,427.0 283.4,426.9 284.8,426.8 286.1,426.7 287.4,426.5 288.7,426.4 290.1,426.2 291.4,426.0 292.7,425.9 294.1,425.7 295.4,425.4 296.7,425.1 298.1,424.8 299.4,424.6 300.7,424.3 302.1,424.1 303.4,423.9 304.7,423.6 306.1,423.3 307.4,423.0 308.7,422.7 310.0,422.3 311.4,422.0 312.7,421.7 314.0,421.5 315.4,421.1 316.7,420.8 318.0,420.6 319.4,420.3 320.7,420.1 322.0,419.9 323.4,419.7 324.7,419.4 326.0,419.0 327.4,418.7 328.7,418.5 330.0,418.2 331.4,418.0 332.7,417.8 334.0,417.7 335.3,417.5 336.7,417.4 338.0,417.3 339.3,417.1 340.7,416.8 342.0,416.6 343.3,416.2 344.7,415.6 346.0,415.0 347.3,414.3 348.7,413.5 350.0,412.7 351.3,412.0 352.7,411.4 354.0,410.7 355.3,410.1 356.6,409.5 358.0,408.7 359.3,408.1 360.6,407.2 362.0,406.4 363.3,405.6 364.6,404.7 366.0,404.1 367.3,403.4 368.6,402.8 370.0,402.3 371.3,401.7 372.6,400.8 374.0,400.1 375.3,399.5 376.6,398.5 377.9,397.3 379.3,396.3 380.6,395.4 381.9,394.5 383.3,393.3 384.6,392.4 385.9,391.7 387.3,390.9 388.6,390.7 389.9,390.2 391.3,389.5 392.6,388.6 393.9,387.6 395.3,386.7 396.6,385.9 397.9,385.1 399.2,384.6 400.6,384.0 401.9,383.6 403.2,383.3 404.6,383.1 405.9,382.2 407.2,381.4 408.6,380.7 409.9,380.0 411.2,379.3 412.6,378.1 413.9,377.0 415.2,375.1 416.6,373.9 417.9,372.6 419.2,371.3 420.6,369.8 421.9,368.2 423.2,366.4 424.5,365.1 425.9,363.5 427.2,361.8 428.5,359.7 429.9,357.8 431.2,356.2 432.5,354.7 433.9,352.1 435.2,350.3 436.5,348.2 437.9,346.0 439.2,344.7 440.5,342.9 441.9,341.3 443.2,339.6 444.5,338.2 445.8,337.3 447.2,336.4 448.5,335.7 449.8,334.7 451.2,333.2 452.5,332.2 453.8,331.2 455.2,330.8 456.5,330.4 457.8,330.1 459.2,330.2 460.5,331.4 461.8,332.2 463.2,333.9 464.5,335.4 465.8,336.0 467.1,337.4 468.5,338.7 469.8,340.2 471.1,341.8 472.5,342.9 473.8,343.8 475.1,345.0 476.5,346.3 477.8,348.1 479.1,349.5 480.5,351.0 481.8,352.3 483.1,353.9 484.5,355.3 485.8,356.8 487.1,357.8 488.4,358.2 489.8,358.3 491.1,358.7 492.4,359.5 493.8,359.9 495.1,360.5 496.4,361.0 497.8,361.2 499.1,361.7 500.4,362.3 501.8,363.1 503.1,363.9 504.4,364.3 505.8,364.6 507.1,364.8 508.4,364.8 509.7,364.8 511.1,364.2 512.4,363.6 513.7,363.2 515.1,363.1 516.4,362.9 517.7,362.9 519.1,363.0 520.4,362.9 521.7,362.6 523.1,362.1 524.4,361.6 525.7,361.1 527.1,360.8 528.4,360.0 529.7,359.1 531.1,358.6 532.4,358.4 533.7,358.3 535.0,358.3 536.4,357.8 537.7,357.8 539.0,357.9 540.4,357.9 541.7,358.0 543.0,358.0 544.4,357.8 545.7,357.6 547.0,357.7 548.4,357.8 549.7,357.9 551.0,357.9 552.4,357.7 553.7,357.4 555.0,357.3 556.3,357.5 557.7,357.4 559.0,356.9 560.3,356.3 561.7,355.5 563.0,355.1 564.3,354.4 565.7,353.9 567.0,353.2 568.3,352.2 569.7,351.1 571.0,349.8 572.3,348.2 573.7,346.2 575.0,344.2 576.3,341.6 577.6,339.2 579.0,337.2 580.3,335.3 581.6,333.6 583.0,331.5 584.3,329.7 585.6,328.6 587.0,327.6 588.3,326.8 589.6,325.3 591.0,324.4 592.3,323.2 593.6,322.2 595.0,321.6 596.3,320.9 597.6,320.3 598.9,319.8 600.3,319.6 601.6,319.3 602.9,319.4 604.3,319.6 605.6,319.8 606.9,320.0 608.3,320.0 609.6,320.6 610.9,321.2 612.3,321.5 613.6,321.4 614.9,321.2 616.3,321.0 617.6,320.8 618.9,320.2 620.2,319.6 621.6,318.8 622.9,318.3 624.2,317.6 625.6,317.2 626.9,316.9 628.2,316.6 629.6,316.2 630.9,315.6 632.2,314.9 633.6,314.0 634.9,312.4 636.2,310.4 637.6,308.0 638.9,305.6 640.2,303.2 641.6,300.7 642.9,298.2 644.2,295.0 645.5,292.6 646.9,290.4 648.2,287.4 649.5,284.1 650.9,280.0 652.2,275.1" fill="none" stroke="#e676e6" stroke-width="1.4"/>
<polyline points="89.0,419.9 90.4,419.7 91.7,419.6 93.0,419.7 94.4,419.7 95.7,419.8 97.0,419.7 98.4,419.7 99.7,419.7 101.0,419.8 102.4,420.0 103.7,420.1 105.0,420.1 106.4,420.1 107.7,420.2 109.0,420.2 110.3,420.2 111.7,420.4 113.0,420.7 114.3,420.9 115.7,421.1 117.0,421.3 118.3,421.3 119.7,421.4 121.0,421.4 122.3,421.4 123.7,421.5 125.0,421.7 126.3,421.9 127.7,421.9 129.0,421.9 130.3,422.0 131.7,422.2 133.0,422.2 134.3,422.4 135.6,422.5 137.0,422.6 138.3,422.6 139.6,422.6 141.0,422.6 142.3,422.4 143.6,422.2 145.0,421.8 146.3,421.6 147.6,421.5 149.0,421.2 150.3,421.0 151.6,420.6 153.0,420.3 154.3,420.1 155.6,420.0 156.9,420.0 158.3,420.1 159.6,420.0 160.9,419.8 162.3,419.7 163.6,419.6 164.9,419.6 166.3,419.5 167.6,419.5 168.9,419.6 170.3,419.6 171.6,419.6 172.9,419.6 174.3,419.6 175.6,419.6 176.9,419.6 178.2,419.7 179.6,419.7 180.9,419.7 182.2,419.6 183.6,419.5 184.9,419.4 186.2,419.4 187.6,419.3 188.9,419.3 190.2,419.2 191.6,419.2 192.9,419.2 194.2,419.2 195.6,419.2 196.9,419.3 198.2,419.5 199.5,419.7 200.9,420.1 202.2,420.3 203.5,420.6 204.9,420.9 206.2,421.1 207.5,421.5 208.9,421.8 210.2,422.2 211.5,422.5 212.9,422.8 214.2,423.2 215.5,423.6 216.9,423.9 218.2,424.2 219.5,424.5 220.8,424.6 222.2,424.9 223.5,425.1 224.8,425.4 226.2,425.6 227.5,425.6 228.8,425.6 230.2,425.7 231.5,425.7 232.8,425.8 234.2,426.0 235.5,426.1 236.8,426.1 238.2,426.3 239.5,426.3 240.8,426.6 242.2,426.8 243.5,426.8 244.8,426.7 246.1,426.7 247.5,426.7 248.8,426.7 250.1,426.6 251.5,426.5 252.8,426.4 254.1,426.3 255.5,426.1 256.8,426.2 258.1,426.4 259.5,426.5 260.8,426.7 262.1,426.8 263.5,426.9 264.8,427.0 266.1,427.0 267.4,427.1 268.8,427.3 270.1,427.4 271.4,427.4 272.8,427.5 274.1,427.4 275.4,427.3 276.8,427.2 278.1,427.2 279.4,427.1 280.8,426.9 282.1,426.7 283.4,426.5 284.8,426.2 286.1,425.8 287.4,425.5 288.7,425.5 290.1,425.2 291.4,424.9 292.7,424.7 294.1,424.4 295.4,424.1 296.7,423.6 298.1,423.4 299.4,423.3 300.7,423.2 302.1,422.8 303.4,422.5 304.7,422.3 306.1,422.0 307.4,421.5 308.7,421.3 310.0,421.1 311.4,420.6 312.7,420.1 314.0,419.8 315.4,419.3 316.7,419.1 318.0,418.8 319.4,418.7 320.7,418.6 322.0,418.5 323.4,418.4 324.7,418.3 326.0,417.9 327.4,417.7 328.7,417.7 330.0,417.4 331.4,417.1 332.7,416.9 334.0,416.7 335.3,416.5 336.7,416.4 338.0,416.4 339.3,416.2 340.7,416.0 342.0,415.5 343.3,414.9 344.7,413.9 346.0,413.1 347.3,411.9 348.7,410.4 350.0,408.9 351.3,407.7 352.7,406.5 354.0,405.5 355.3,404.7 356.6,404.1 358.0,403.6 359.3,403.0 360.6,402.5 362.0,402.4 363.3,402.2 364.6,401.8 366.0,401.6 367.3,401.4 368.6,400.9 370.0,400.5 371.3,399.8 372.6,398.7 374.0,397.7 375.3,396.6 376.6,394.8 377.9,392.8 379.3,391.0 380.6,389.5 381.9,388.0 383.3,386.2 384.6,385.0 385.9,384.7 387.3,384.0 388.6,384.9 389.9,385.6 391.3,386.3 392.6,386.2 393.9,385.6 395.3,385.4 396.6,385.6 397.9,385.2 399.2,384.5 400.6,384.0 401.9,382.4 403.2,381.0 404.6,379.9 405.9,378.2 407.2,377.1 408.6,376.0 409.9,374.4 411.2,373.5 412.6,371.7 413.9,369.9 415.2,367.9 416.6,366.7 417.9,365.2 419.2,364.4 420.6,362.5 421.9,360.4 423.2,358.3 424.5,356.8 425.9,355.2 427.2,353.6 428.5,351.5 429.9,349.0 431.2,347.3 432.5,345.1 433.9,341.8 435.2,340.2 436.5,338.1 437.9,335.3 439.2,334.2 440.5,332.2 441.9,331.1 443.2,330.2 444.5,329.0 445.8,329.5 447.2,331.1 448.5,331.1 449.8,331.3 451.2,331.1 452.5,330.1 453.8,330.3 455.2,330.5 456.5,330.6 457.8,331.2 459.2,330.9 460.5,331.8 461.8,333.3 463.2,336.5 464.5,339.7 465.8,341.9 467.1,344.5 468.5,347.0 469.8,349.8 471.1,352.4 472.5,354.9 473.8,355.9 475.1,356.6 476.5,356.2 477.8,356.7 479.1,357.2 480.5,357.5 481.8,357.8 483.1,358.1 484.5,358.3 485.8,358.7 487.1,359.7 488.4,359.7 489.8,360.3 491.1,360.7 492.4,361.7 493.8,362.4 495.1,363.2 496.4,364.0 497.8,364.2 499.1,364.6 500.4,364.9 501.8,366.4 503.1,367.5 504.4,367.9 505.8,367.5 507.1,367.2 508.4,366.4 509.7,365.6 511.1,364.3 512.4,362.6 513.7,361.5 515.1,359.7 516.4,358.2 517.7,357.8 519.1,358.4 520.4,358.6 521.7,358.9 523.1,358.6 524.4,359.0 525.7,359.6 527.1,360.0 528.4,360.4 529.7,360.0 531.1,359.3 532.4,358.4 533.7,358.0 535.0,357.7 536.4,357.0 537.7,356.6 539.0,356.2 540.4,355.7 541.7,355.5 543.0,356.0 544.4,356.4 545.7,356.8 547.0,357.4 548.4,358.0 549.7,358.9 551.0,359.1 552.4,359.1 553.7,359.1 555.0,359.1 556.3,358.9 557.7,358.4 559.0,356.9 560.3,355.2 561.7,353.0 563.0,351.3 564.3,349.7 565.7,348.7 567.0,347.3 568.3,345.3 569.7,343.4 571.0,341.4 572.3,339.5 573.7,337.3 575.0,335.4 576.3,331.9 577.6,328.7 579.0,325.7 580.3,323.3 581.6,322.0 583.0,319.7 584.3,317.9 585.6,317.7 587.0,317.9 588.3,318.2 589.6,318.7 591.0,320.2 592.3,320.7 593.6,321.1 595.0,321.3 596.3,322.0 597.6,322.6 598.9,321.9 600.3,321.3 601.6,320.4 602.9,320.1 604.3,319.1 605.6,318.9 606.9,319.0 608.3,318.8 609.6,319.2 610.9,319.9 612.3,321.2 613.6,321.4 614.9,321.9 616.3,322.0 617.6,322.5 618.9,321.5 620.2,320.2 621.6,318.8 622.9,317.4 624.2,315.4 625.6,313.1 626.9,312.4 628.2,311.2 629.6,310.4 630.9,308.8 632.2,308.2 633.6,307.8 634.9,305.9 636.2,303.3 637.6,300.7 638.9,298.1 640.2,293.9 641.6,290.2 642.9,286.0 644.2,281.2 645.5,276.8 646.9,272.6 648.2,268.5 649.5,264.6 650.9,258.9 652.2,252.0" fill="none" stroke="#f2b838" stroke-width="1.5"/>
<polyline points="89.0,419.0 90.4,418.5 91.7,418.6 93.0,419.2 94.4,419.7 95.7,420.5 97.0,421.0 98.4,420.7 99.7,420.2 101.0,419.9 102.4,419.5 103.7,419.2 105.0,419.5 106.4,420.1 107.7,420.4 109.0,420.8 110.3,421.2 111.7,421.2 113.0,421.2 114.3,421.3 115.7,421.3 117.0,421.4 118.3,421.4 119.7,421.5 121.0,421.4 122.3,421.5 123.7,421.7 125.0,422.1 126.3,422.3 127.7,422.4 129.0,422.4 130.3,422.4 131.7,422.2 133.0,422.2 134.3,422.3 135.6,422.6 137.0,422.8 138.3,423.1 139.6,423.1 141.0,422.8 142.3,422.2 143.6,421.6 145.0,420.6 146.3,420.1 147.6,420.1 149.0,420.3 150.3,420.4 151.6,420.5 153.0,420.4 154.3,420.1 155.6,419.8 156.9,419.7 158.3,419.8 159.6,419.6 160.9,419.6 162.3,419.7 163.6,419.4 164.9,419.4 166.3,419.4 167.6,419.4 168.9,419.6 170.3,419.8 171.6,419.8 172.9,419.7 174.3,419.7 175.6,419.5 176.9,419.4 178.2,419.6 179.6,419.6 180.9,419.7 182.2,419.7 183.6,419.6 184.9,419.3 186.2,419.1 187.6,418.9 188.9,418.9 190.2,418.8 191.6,419.1 192.9,419.3 194.2,419.4 195.6,419.6 196.9,419.8 198.2,419.9 199.5,420.1 200.9,420.7 202.2,421.0 203.5,421.4 204.9,421.8 206.2,422.1 207.5,422.3 208.9,422.7 210.2,423.0 211.5,423.1 212.9,423.6 214.2,424.1 215.5,424.5 216.9,424.8 218.2,425.3 219.5,425.4 220.8,425.2 222.2,425.2 223.5,425.3 224.8,425.4 226.2,425.8 227.5,426.0 228.8,426.0 230.2,426.0 231.5,426.0 232.8,425.8 234.2,425.9 235.5,426.1 236.8,426.2 238.2,426.5 239.5,426.8 240.8,427.2 242.2,427.6 243.5,427.4 244.8,427.0 246.1,426.6 247.5,426.1 248.8,425.7 250.1,425.8 251.5,426.1 252.8,426.3 254.1,426.5 255.5,426.5 256.8,426.7 258.1,426.7 259.5,426.7 260.8,426.8 262.1,427.1 263.5,427.1 264.8,427.3 266.1,427.4 267.4,427.5 268.8,427.5 270.1,427.6 271.4,427.6 272.8,427.6 274.1,427.4 275.4,427.0 276.8,426.8 278.1,426.8 279.4,426.6 280.8,426.5 282.1,426.4 283.4,426.1 284.8,425.7 286.1,425.0 287.4,424.6 288.7,424.5 290.1,424.3 291.4,424.1 292.7,424.3 294.1,424.3 295.4,423.7 296.7,422.9 298.1,422.6 299.4,422.4 300.7,422.1 302.1,421.9 303.4,422.2 304.7,422.1 306.1,421.6 307.4,420.9 308.7,420.6 310.0,419.9 311.4,419.1 312.7,418.7 314.0,418.6 315.4,418.0 316.7,418.2 318.0,418.5 319.4,418.6 320.7,418.7 322.0,418.9 323.4,418.5 324.7,418.0 326.0,417.3 327.4,416.7 328.7,416.5 330.0,416.2 331.4,416.2 332.7,416.5 334.0,416.7 335.3,416.5 336.7,416.6 338.0,416.5 339.3,416.0 340.7,415.3 342.0,414.4 343.3,413.2 344.7,411.4 346.0,410.2 347.3,408.6 348.7,406.4 350.0,404.6 351.3,403.9 352.7,402.9 354.0,402.3 355.3,403.1 356.6,403.6 358.0,403.2 359.3,403.1 360.6,402.8 362.0,401.8 363.3,400.9 364.6,400.4 366.0,400.0 367.3,400.0 368.6,400.1 370.0,400.0 371.3,399.2 372.6,397.3 374.0,395.4 375.3,393.1 376.6,389.6 377.9,386.4 379.3,384.7 380.6,383.5 381.9,382.9 383.3,382.8 384.6,383.6 385.9,384.8 387.3,384.5 388.6,386.9 389.9,388.5 391.3,388.9 392.6,387.6 393.9,386.7 395.3,383.9 396.6,382.8 397.9,381.5 399.2,381.5 400.6,381.3 401.9,380.9 403.2,379.3 404.6,378.4 405.9,374.9 407.2,372.9 408.6,371.1 409.9,369.6 411.2,368.5 412.6,368.6 413.9,367.0 415.2,364.7 416.6,363.8 417.9,361.9 419.2,360.1 420.6,358.1 421.9,356.2 423.2,352.8 424.5,351.7 425.9,350.2 427.2,349.1 428.5,346.8 429.9,345.2 431.2,342.9 432.5,339.9 433.9,334.5 435.2,333.7 436.5,331.1 437.9,327.7 439.2,328.5 440.5,329.8 441.9,328.5 443.2,329.3 444.5,330.4 445.8,330.5 447.2,332.3 448.5,333.7 449.8,333.4 451.2,331.9 452.5,329.7 453.8,328.2 455.2,327.3 456.5,327.7 457.8,330.4 459.2,332.1 460.5,335.4 461.8,339.3 463.2,345.2 464.5,348.9 465.8,351.6 467.1,353.7 468.5,354.6 469.8,354.3 471.1,355.9 472.5,358.1 473.8,358.1 475.1,358.7 476.5,358.1 477.8,357.5 479.1,356.3 480.5,356.9 481.8,356.8 483.1,358.0 484.5,359.1 485.8,361.1 487.1,362.5 488.4,362.6 489.8,362.6 491.1,362.4 492.4,362.3 493.8,362.2 495.1,363.7 496.4,365.4 497.8,366.0 499.1,367.0 500.4,367.6 501.8,369.1 503.1,369.6 504.4,369.8 505.8,368.1 507.1,366.8 508.4,363.7 509.7,361.6 511.1,358.7 512.4,357.1 513.7,356.1 515.1,355.7 516.4,354.9 517.7,357.0 519.1,359.8 520.4,361.1 521.7,362.0 523.1,362.3 524.4,361.0 525.7,359.4 527.1,359.0 528.4,358.8 529.7,357.7 531.1,357.5 532.4,357.5 533.7,357.0 535.0,356.6 536.4,356.2 537.7,355.7 539.0,355.0 540.4,354.4 541.7,354.5 543.0,355.8 544.4,357.0 545.7,358.6 547.0,360.3 548.4,361.5 549.7,361.9 551.0,361.3 552.4,359.7 553.7,357.9 555.0,356.8 556.3,355.9 557.7,355.5 559.0,354.2 560.3,352.5 561.7,349.3 563.0,346.8 564.3,344.0 565.7,343.3 567.0,342.1 568.3,341.3 569.7,340.0 571.0,338.8 572.3,335.6 573.7,332.5 575.0,329.6 576.3,323.8 577.6,318.6 579.0,315.8 580.3,314.0 581.6,314.3 583.0,315.5 584.3,317.3 585.6,319.6 587.0,321.9 588.3,322.0 589.6,321.9 591.0,323.0 592.3,321.8 593.6,320.4 595.0,320.5 596.3,322.2 597.6,322.1 598.9,322.0 600.3,322.3 601.6,320.3 602.9,317.9 604.3,316.1 605.6,315.8 606.9,315.6 608.3,317.3 609.6,320.4 610.9,323.7 612.3,326.6 613.6,327.1 614.9,326.5 616.3,323.5 617.6,321.3 618.9,316.5 620.2,313.2 621.6,311.1 622.9,311.3 624.2,309.4 625.6,309.7 626.9,311.6 628.2,311.3 629.6,309.5 630.9,308.1 632.2,306.7 633.6,304.1 634.9,300.6 636.2,297.2 637.6,293.4 638.9,289.6 640.2,283.7 641.6,279.7 642.9,274.6 644.2,268.8 645.5,264.0 646.9,261.6 648.2,257.4 649.5,254.7 650.9,249.1 652.2,240.0" fill="none" stroke="#a8a8a8" stroke-width="1.2"/>
</g>
<text transform="scale(0.780,1.200)" x="113.97 125.00 136.03 147.05 158.08" y="150.50" text-anchor="middle" fill="#1a1a1a" stroke="#1a1a1a" stroke-width="0.3" font-family="'Liberation Serif',serif" font-size="15.50">COMEX</text><text x="127.70" y="181.20" fill="#1a1a1a" stroke="#1a1a1a" stroke-width="0.3" font-family="'Noto Serif CJK SC',serif" font-size="17">黄金</text><text transform="scale(0.820,1.200)" x="202.80 213.29 223.78 234.27 244.76 255.24 265.73" y="150.50" text-anchor="middle" fill="#1a1a1a" stroke="#1a1a1a" stroke-width="0.3" font-family="'Liberation Serif',serif" font-size="15.50">[GC00Y]</text><text transform="scale(0.920,1.200)" x="255.54 264.89 274.24 283.59 292.93 302.28 311.63 320.98 330.33 339.67 349.02 358.37 367.72 377.07 386.41 395.76" y="150.50" text-anchor="middle" fill="#1a1a1a" stroke="#1a1a1a" stroke-width="0.3" font-family="'Liberation Serif',serif" font-size="15.50">2025-04-17 16:00</text><text transform="scale(0.820,1.200)" x="575.61 586.10 596.59 607.07" y="150.50" text-anchor="middle" fill="#1a1a1a" stroke="#1a1a1a" stroke-width="0.3" font-family="'Liberation Serif',serif" font-size="15.50">5PMA</text><text transform="scale(0.820,1.200)" x="649.51 660.00 670.49 680.98 691.46" y="150.50" text-anchor="middle" fill="#1a1a1a" stroke="#1a1a1a" stroke-width="0.3" font-family="'Liberation Serif',serif" font-size="15.50">10PMA</text><text transform="scale(0.820,1.200)" x="728.17 738.66 749.15 759.63 770.12" y="150.50" text-anchor="middle" fill="#1a1a1a" stroke="#1a1a1a" stroke-width="0.3" font-family="'Liberation Serif',serif" font-size="15.50">20PMA</text><text transform="scale(0.820,1.200)" x="808.90 819.39 829.88 840.37 850.85" y="150.50" text-anchor="middle" fill="#1a1a1a" stroke="#1a1a1a" stroke-width="0.3" font-family="'Liberation Serif',serif" font-size="15.50">30PMA</text>
<rect x="506" y="171.5" width="9" height="4" fill="#9c9c9c"/>
<rect x="575.3" y="171.5" width="8.5" height="4" fill="#f0b428"/>
<rect x="640.3" y="171.5" width="9.3" height="4" fill="#e040e0"/>
<rect x="706.5" y="171.5" width="9.9" height="4" fill="#1a7a4e"/>
<g font-family="'Liberation Sans',sans-serif" font-size="18" fill="#2a2a2a" stroke="#2a2a2a" stroke-width="0.25" text-anchor="end">
<text x="81" y="198" >3644.0</text>
<text x="81" y="229.8">3186.1</text>
<text x="81" y="261.8">2728.3</text>
<text x="81" y="294.3">2270.4</text>
<text x="81" y="326.1">1812.6</text>
<text x="81" y="357.6">1354.7</text>
<text x="81" y="389.5">896.8</text>
<text x="81" y="421.5">439.0</text>
<text x="81" y="452">-18.9</text>
</g>
<g font-family="'Liberation Sans',sans-serif" font-size="15.6" fill="#d53b3b" text-anchor="middle">
<text x="119.4" y="468.3">1992</text>
<text x="214.3" y="468.3">1998</text>
<text x="294.2" y="468.3">2003</text>
<text x="375.3" y="468.3">2008</text>
<text x="470.3" y="468.3">2014</text>
<text x="567" y="468.3">2020</text>
<text x="647.5" y="468.3">2025</text>
</g>
<g fill="#111">
<rect x="729.2" y="131.6" width="3.6" height="2" rx="0.8"/><rect x="733.4" y="131.6" width="3.6" height="2" rx="0.8"/><rect x="738.2" y="131.4" width="4.2" height="2.2" rx="0.8"/><path d="M743.6,131.6 L746.2,131.6 L744.9,134 Z"/>
<rect x="730.4" y="148.6" width="14.6" height="1.7"/><rect x="736.4" y="147" width="1.5" height="5.6"/><rect x="741" y="149.4" width="1.2" height="2.9"/>
<rect x="743.6" y="160.3" width="1.9" height="2.2"/>
</g>
</svg>
</body></html>
